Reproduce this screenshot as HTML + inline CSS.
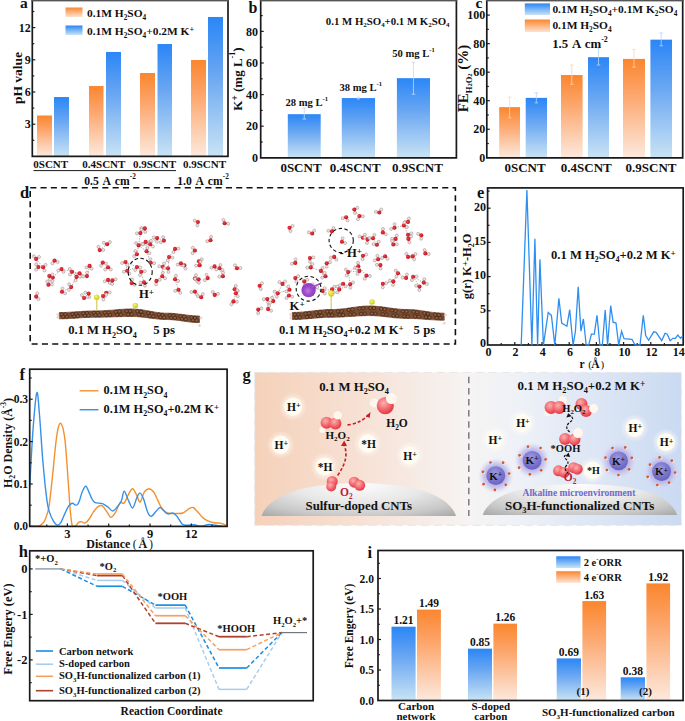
<!DOCTYPE html>
<html><head><meta charset="utf-8"><style>
html,body{margin:0;padding:0;background:#fff;width:685px;height:721px;overflow:hidden}
svg{display:block;font-family:'Liberation Serif',serif}
</style></head><body>
<svg width="685" height="721" viewBox="0 0 685 721">

<defs>
<linearGradient id="gO" x1="0" y1="0" x2="0" y2="1">
 <stop offset="0" stop-color="#fb862e"/><stop offset="0.35" stop-color="#fca56a"/><stop offset="1" stop-color="#fde9de"/>
</linearGradient>
<linearGradient id="gB" x1="0" y1="0" x2="0" y2="1">
 <stop offset="0" stop-color="#2a86f7"/><stop offset="0.4" stop-color="#68a6f2"/><stop offset="1" stop-color="#c9e3f4"/>
</linearGradient>
<linearGradient id="gOs" x1="0" y1="0" x2="0" y2="1">
 <stop offset="0" stop-color="#fb862e"/><stop offset="1" stop-color="#fde3d2"/>
</linearGradient>
<linearGradient id="gBs" x1="0" y1="0" x2="0" y2="1">
 <stop offset="0" stop-color="#2a86f7"/><stop offset="1" stop-color="#c9e3f4"/>
</linearGradient>
<linearGradient id="gL" x1="0" y1="0" x2="1" y2="0">
 <stop offset="0" stop-color="#f7d3bd"/><stop offset="1" stop-color="#fbf1ec"/>
</linearGradient>
<linearGradient id="gR" x1="0" y1="0" x2="1" y2="0">
 <stop offset="0" stop-color="#eef1f8"/><stop offset="1" stop-color="#c6d8f1"/>
</linearGradient>
<radialGradient id="gDome" cx="0.5" cy="0.05" r="0.75" gradientTransform="translate(0.5 0.05) scale(1 1.6) translate(-0.5 -0.05)">
 <stop offset="0" stop-color="#fcfcfc"/><stop offset="0.45" stop-color="#e8e8e8"/><stop offset="0.8" stop-color="#c8c8c8"/><stop offset="1" stop-color="#ababab"/>
</radialGradient>
<radialGradient id="gK" cx="0.5" cy="0.5" r="0.5">
 <stop offset="0.45" stop-color="#aca7e3"/><stop offset="0.7" stop-color="#c3c0ec" stop-opacity="0.75"/><stop offset="1" stop-color="#d8d8f4" stop-opacity="0"/>
</radialGradient>
<radialGradient id="gKs" cx="0.45" cy="0.35" r="0.65">
 <stop offset="0" stop-color="#9e9ade"/><stop offset="0.6" stop-color="#7c76cc"/><stop offset="1" stop-color="#6a63c0"/>
</radialGradient>
<linearGradient id="gBG" x1="0" y1="0" x2="1" y2="0">
 <stop offset="0" stop-color="#f5d1b9"/><stop offset="0.25" stop-color="#f7e1d5"/><stop offset="0.5" stop-color="#f6f4f3"/><stop offset="0.62" stop-color="#eef1f7"/><stop offset="1" stop-color="#cadaf2"/>
</linearGradient>
<radialGradient id="gH" cx="0.5" cy="0.5" r="0.5">
 <stop offset="0" stop-color="#ffffff"/><stop offset="0.6" stop-color="#fffaf2"/><stop offset="1" stop-color="#ffffff" stop-opacity="0"/>
</radialGradient>
<radialGradient id="gO2" cx="0.4" cy="0.4" r="0.6">
 <stop offset="0" stop-color="#ec4046"/><stop offset="1" stop-color="#c0101c"/>
</radialGradient>
<radialGradient id="gS" cx="0.4" cy="0.35" r="0.65">
 <stop offset="0" stop-color="#f4f480"/><stop offset="1" stop-color="#d0c810"/>
</radialGradient>
<radialGradient id="gKd" cx="0.45" cy="0.55" r="0.6">
 <stop offset="0" stop-color="#c07ad8"/><stop offset="0.5" stop-color="#9a48cc"/><stop offset="1" stop-color="#8638c0"/>
</radialGradient>
<radialGradient id="gRed" cx="0.4" cy="0.35" r="0.6">
 <stop offset="0" stop-color="#ffb0b0"/><stop offset="1" stop-color="#e8404a"/>
</radialGradient>
</defs>

<rect x="37" y="115.506" width="15" height="40.894000000000005" fill="url(#gO)" />
<rect x="54" y="97.04466666666667" width="15" height="59.355333333333334" fill="url(#gB)" />
<rect x="89" y="85.98933333333333" width="14.5" height="70.41066666666667" fill="url(#gO)" />
<rect x="106" y="51.96466666666666" width="15" height="104.43533333333335" fill="url(#gB)" />
<rect x="140" y="73.00200000000001" width="15" height="83.398" fill="url(#gO)" />
<rect x="157.5" y="44.02199999999999" width="14.5" height="112.37800000000001" fill="url(#gB)" />
<rect x="191" y="60.014666666666656" width="15" height="96.38533333333335" fill="url(#gO)" />
<rect x="208" y="16.97399999999999" width="15" height="139.42600000000002" fill="url(#gB)" />
<path d="M32.3,-0.04999999999999993 L32.3,156.4 L228,156.4 L228,-0.04999999999999993" fill="none" stroke="#1a1a1a" stroke-width="1.7"/>
<rect x="31.449999999999996" y="0" width="197.39999999999998" height="1.4" fill="#555"/>
<line x1="32.3" y1="124.2" x2="35.3" y2="124.2" stroke="#1a1a1a" stroke-width="1.2" />
<text x="30.8" y="128.4" font-size="12" text-anchor="end" fill="#111" font-weight="bold"  xml:space="preserve"><tspan>3</tspan></text>
<line x1="32.3" y1="92.0" x2="35.3" y2="92.0" stroke="#1a1a1a" stroke-width="1.2" />
<text x="30.8" y="96.2" font-size="12" text-anchor="end" fill="#111" font-weight="bold"  xml:space="preserve"><tspan>6</tspan></text>
<line x1="32.3" y1="59.8" x2="35.3" y2="59.8" stroke="#1a1a1a" stroke-width="1.2" />
<text x="30.8" y="64.0" font-size="12" text-anchor="end" fill="#111" font-weight="bold"  xml:space="preserve"><tspan>9</tspan></text>
<line x1="32.3" y1="27.599999999999994" x2="35.3" y2="27.599999999999994" stroke="#1a1a1a" stroke-width="1.2" />
<text x="30.8" y="31.799999999999994" font-size="12" text-anchor="end" fill="#111" font-weight="bold"  xml:space="preserve"><tspan>12</tspan></text>
<line x1="32.3" y1="140.3" x2="34.3" y2="140.3" stroke="#1a1a1a" stroke-width="1.2" />
<line x1="32.3" y1="108.1" x2="34.3" y2="108.1" stroke="#1a1a1a" stroke-width="1.2" />
<line x1="32.3" y1="75.9" x2="34.3" y2="75.9" stroke="#1a1a1a" stroke-width="1.2" />
<line x1="32.3" y1="43.69999999999999" x2="34.3" y2="43.69999999999999" stroke="#1a1a1a" stroke-width="1.2" />
<line x1="32.3" y1="11.5" x2="34.3" y2="11.5" stroke="#1a1a1a" stroke-width="1.2" />
<text x="20.1" y="7.9" font-size="15.5" text-anchor="start" fill="#111" font-weight="bold"  xml:space="preserve"><tspan>a</tspan></text>
<rect x="65.5" y="7.5" width="17" height="9.5" fill="url(#gOs)" />
<rect x="65.5" y="25.5" width="17" height="9.5" fill="url(#gBs)" />
<text x="87" y="16.5" font-size="11.4" text-anchor="start" fill="#111" font-weight="bold"  xml:space="preserve"><tspan>0.1M H</tspan><tspan dy="3.08" font-size="7.30">2</tspan><tspan dy="-3.08">SO</tspan><tspan dy="3.08" font-size="7.30">4</tspan></text>
<text x="87" y="34.5" font-size="11.4" text-anchor="start" fill="#111" font-weight="bold"  xml:space="preserve"><tspan>0.1M H</tspan><tspan dy="3.08" font-size="7.30">2</tspan><tspan dy="-3.08">SO</tspan><tspan dy="3.08" font-size="7.30">4</tspan><tspan dy="-3.08">+0.2M K</tspan><tspan dy="-2.74" font-size="8.21">+</tspan></text>
<text transform="translate(22.3,78) rotate(-90)" font-size="13.5" text-anchor="middle" fill="#111" font-weight="bold" xml:space="preserve"><tspan>pH value</tspan></text>
<text x="33.3" y="167.8" font-size="11" text-anchor="start" fill="#111" font-weight="bold"  xml:space="preserve"><tspan>0SCNT</tspan></text>
<text x="82.3" y="167.8" font-size="11" text-anchor="start" fill="#111" font-weight="bold"  xml:space="preserve"><tspan>0.4SCNT</tspan></text>
<text x="133" y="167.8" font-size="11" text-anchor="start" fill="#111" font-weight="bold"  xml:space="preserve"><tspan>0.9SCNT</tspan></text>
<text x="183" y="167.8" font-size="11" text-anchor="start" fill="#111" font-weight="bold"  xml:space="preserve"><tspan>0.9SCNT</tspan></text>
<line x1="33.5" y1="170.6" x2="176" y2="170.6" stroke="#1a1a1a" stroke-width="1.0" />
<text x="84.2" y="184.5" font-size="11.7" text-anchor="start" fill="#111" font-weight="bold" word-spacing="1.5" xml:space="preserve"><tspan>0.5 A cm</tspan><tspan dy="-5.85" font-size="7.25">-2</tspan></text>
<text x="177.2" y="184.5" font-size="11.7" text-anchor="start" fill="#111" font-weight="bold" word-spacing="1.5" xml:space="preserve"><tspan>1.0 A cm</tspan><tspan dy="-5.85" font-size="7.25">-2</tspan></text>
<rect x="287.8" y="114.19200000000001" width="32.89999999999998" height="43.608000000000004" fill="url(#gB)" />
<line x1="304.25" y1="119.09" x2="304.25" y2="108.03" stroke="#c2daf6" stroke-width="0.8" />
<line x1="302.45" y1="119.09" x2="306.05" y2="119.09" stroke="#c2daf6" stroke-width="0.8" />
<line x1="302.45" y1="108.03" x2="306.05" y2="108.03" stroke="#c2daf6" stroke-width="0.8" />
<rect x="341.8" y="98.07600000000002" width="33.19999999999999" height="59.72399999999999" fill="url(#gB)" />
<line x1="358.4" y1="98.86600000000001" x2="358.4" y2="97.28600000000002" stroke="#c2daf6" stroke-width="0.8" />
<line x1="356.59999999999997" y1="98.86600000000001" x2="360.2" y2="98.86600000000001" stroke="#c2daf6" stroke-width="0.8" />
<line x1="356.59999999999997" y1="97.28600000000002" x2="360.2" y2="97.28600000000002" stroke="#c2daf6" stroke-width="0.8" />
<rect x="396.9" y="78.168" width="33.10000000000002" height="79.632" fill="url(#gB)" />
<line x1="413.45" y1="94.284" x2="413.45" y2="62.05200000000001" stroke="#c2daf6" stroke-width="0.8" />
<line x1="411.65" y1="94.284" x2="415.25" y2="94.284" stroke="#c2daf6" stroke-width="0.8" />
<line x1="411.65" y1="62.05200000000001" x2="415.25" y2="62.05200000000001" stroke="#c2daf6" stroke-width="0.8" />
<path d="M260.7,-0.04999999999999993 L260.7,157.8 L456.4,157.8 L456.4,-0.04999999999999993" fill="none" stroke="#1a1a1a" stroke-width="1.7"/>
<rect x="259.84999999999997" y="0" width="197.39999999999998" height="1.4" fill="#555"/>
<text x="258" y="162.0" font-size="12" text-anchor="end" fill="#111" font-weight="bold"  xml:space="preserve"><tspan>0</tspan></text>
<line x1="260.7" y1="126.20000000000002" x2="263.7" y2="126.20000000000002" stroke="#1a1a1a" stroke-width="1.2" />
<text x="258" y="130.4" font-size="12" text-anchor="end" fill="#111" font-weight="bold"  xml:space="preserve"><tspan>20</tspan></text>
<line x1="260.7" y1="94.60000000000001" x2="263.7" y2="94.60000000000001" stroke="#1a1a1a" stroke-width="1.2" />
<text x="258" y="98.80000000000001" font-size="12" text-anchor="end" fill="#111" font-weight="bold"  xml:space="preserve"><tspan>40</tspan></text>
<line x1="260.7" y1="63.0" x2="263.7" y2="63.0" stroke="#1a1a1a" stroke-width="1.2" />
<text x="258" y="67.2" font-size="12" text-anchor="end" fill="#111" font-weight="bold"  xml:space="preserve"><tspan>60</tspan></text>
<line x1="260.7" y1="31.400000000000006" x2="263.7" y2="31.400000000000006" stroke="#1a1a1a" stroke-width="1.2" />
<text x="258" y="35.60000000000001" font-size="12" text-anchor="end" fill="#111" font-weight="bold"  xml:space="preserve"><tspan>80</tspan></text>
<line x1="260.7" y1="142.0" x2="262.7" y2="142.0" stroke="#1a1a1a" stroke-width="1.2" />
<line x1="260.7" y1="110.4" x2="262.7" y2="110.4" stroke="#1a1a1a" stroke-width="1.2" />
<line x1="260.7" y1="78.80000000000001" x2="262.7" y2="78.80000000000001" stroke="#1a1a1a" stroke-width="1.2" />
<line x1="260.7" y1="47.2" x2="262.7" y2="47.2" stroke="#1a1a1a" stroke-width="1.2" />
<line x1="260.7" y1="15.599999999999994" x2="262.7" y2="15.599999999999994" stroke="#1a1a1a" stroke-width="1.2" />
<text x="248.6" y="12.8" font-size="16" text-anchor="start" fill="#111" font-weight="bold"  xml:space="preserve"><tspan>b</tspan></text>
<text x="325.8" y="24.5" font-size="10.8" text-anchor="start" fill="#111" font-weight="bold"  xml:space="preserve"><tspan>0.1 M H</tspan><tspan dy="2.92" font-size="6.91">2</tspan><tspan dy="-2.92">SO</tspan><tspan dy="2.92" font-size="6.91">4</tspan><tspan dy="-2.92">+0.1 M K</tspan><tspan dy="2.92" font-size="6.91">2</tspan><tspan dy="-2.92">SO</tspan><tspan dy="2.92" font-size="6.91">4</tspan></text>
<text x="306.8" y="105.8" font-size="10.6" text-anchor="middle" fill="#111" font-weight="bold"  xml:space="preserve"><tspan>28 mg L</tspan><tspan dy="-5.30" font-size="6.57">-1</tspan></text>
<text x="360.8" y="91.3" font-size="10.6" text-anchor="middle" fill="#111" font-weight="bold"  xml:space="preserve"><tspan>38 mg L</tspan><tspan dy="-5.30" font-size="6.57">-1</tspan></text>
<text x="413.5" y="57.4" font-size="10.6" text-anchor="middle" fill="#111" font-weight="bold"  xml:space="preserve"><tspan>50 mg L</tspan><tspan dy="-5.30" font-size="6.57">-1</tspan></text>
<text transform="translate(241.5,79) rotate(-90)" font-size="13" text-anchor="middle" fill="#111" font-weight="bold" xml:space="preserve"><tspan>K</tspan><tspan dy="-3.12" font-size="9.36">+</tspan><tspan dy="3.12"> (mg L</tspan><tspan dy="-6.50" font-size="8.06">-1</tspan><tspan dy="6.50">)</tspan></text>
<text x="280.4" y="171.5" font-size="13" text-anchor="start" fill="#111" font-weight="bold"  xml:space="preserve"><tspan>0SCNT</tspan></text>
<text x="329.7" y="171.5" font-size="13" text-anchor="start" fill="#111" font-weight="bold"  xml:space="preserve"><tspan>0.4SCNT</tspan></text>
<text x="392" y="171.5" font-size="13" text-anchor="start" fill="#111" font-weight="bold"  xml:space="preserve"><tspan>0.9SCNT</tspan></text>
<rect x="499.2" y="107.14150000000001" width="20.80000000000001" height="50.658500000000004" fill="url(#gO)" />
<line x1="509.6" y1="117.84400000000001" x2="509.6" y2="97.1525" stroke="#fbd3b0" stroke-width="0.8" />
<line x1="507.8" y1="117.84400000000001" x2="511.40000000000003" y2="117.84400000000001" stroke="#fbd3b0" stroke-width="0.8" />
<line x1="507.8" y1="97.1525" x2="511.40000000000003" y2="97.1525" stroke="#fbd3b0" stroke-width="0.8" />
<rect x="525.7" y="97.86600000000001" width="21.299999999999955" height="59.934" fill="url(#gB)" />
<line x1="536.35" y1="102.8605" x2="536.35" y2="92.87150000000001" stroke="#b9d4f4" stroke-width="0.8" />
<line x1="534.5500000000001" y1="102.8605" x2="538.15" y2="102.8605" stroke="#b9d4f4" stroke-width="0.8" />
<line x1="534.5500000000001" y1="92.87150000000001" x2="538.15" y2="92.87150000000001" stroke="#b9d4f4" stroke-width="0.8" />
<rect x="561" y="75.034" width="21.600000000000023" height="82.766" fill="url(#gO)" />
<line x1="571.8" y1="84.30950000000001" x2="571.8" y2="65.045" stroke="#fbd3b0" stroke-width="0.8" />
<line x1="570.0" y1="84.30950000000001" x2="573.5999999999999" y2="84.30950000000001" stroke="#fbd3b0" stroke-width="0.8" />
<line x1="570.0" y1="65.045" x2="573.5999999999999" y2="65.045" stroke="#fbd3b0" stroke-width="0.8" />
<rect x="588" y="57.196500000000015" width="21" height="100.6035" fill="url(#gB)" />
<line x1="598.5" y1="65.045" x2="598.5" y2="47.92100000000001" stroke="#b9d4f4" stroke-width="0.8" />
<line x1="596.7" y1="65.045" x2="600.3" y2="65.045" stroke="#b9d4f4" stroke-width="0.8" />
<line x1="596.7" y1="47.92100000000001" x2="600.3" y2="47.92100000000001" stroke="#b9d4f4" stroke-width="0.8" />
<rect x="623" y="58.90890000000002" width="22" height="98.8911" fill="url(#gO)" />
<line x1="634.0" y1="67.1855" x2="634.0" y2="49.34800000000001" stroke="#fbd3b0" stroke-width="0.8" />
<line x1="632.2" y1="67.1855" x2="635.8" y2="67.1855" stroke="#fbd3b0" stroke-width="0.8" />
<line x1="632.2" y1="49.34800000000001" x2="635.8" y2="49.34800000000001" stroke="#fbd3b0" stroke-width="0.8" />
<rect x="650.4" y="39.644400000000005" width="21.600000000000023" height="118.1556" fill="url(#gB)" />
<line x1="661.2" y1="45.7805" x2="661.2" y2="32.937500000000014" stroke="#b9d4f4" stroke-width="0.8" />
<line x1="659.4000000000001" y1="45.7805" x2="663.0" y2="45.7805" stroke="#b9d4f4" stroke-width="0.8" />
<line x1="659.4000000000001" y1="32.937500000000014" x2="663.0" y2="32.937500000000014" stroke="#b9d4f4" stroke-width="0.8" />
<path d="M486.8,-0.04999999999999993 L486.8,157.8 L682.7,157.8 L682.7,-0.04999999999999993" fill="none" stroke="#1a1a1a" stroke-width="1.7"/>
<rect x="485.95" y="0" width="197.60000000000002" height="1.4" fill="#555"/>
<text x="485.2" y="162.0" font-size="12" text-anchor="end" fill="#111" font-weight="bold"  xml:space="preserve"><tspan>0</tspan></text>
<line x1="486.8" y1="129.26000000000002" x2="489.8" y2="129.26000000000002" stroke="#1a1a1a" stroke-width="1.2" />
<text x="485.2" y="133.46" font-size="12" text-anchor="end" fill="#111" font-weight="bold"  xml:space="preserve"><tspan>20</tspan></text>
<line x1="486.8" y1="100.72000000000001" x2="489.8" y2="100.72000000000001" stroke="#1a1a1a" stroke-width="1.2" />
<text x="485.2" y="104.92000000000002" font-size="12" text-anchor="end" fill="#111" font-weight="bold"  xml:space="preserve"><tspan>40</tspan></text>
<line x1="486.8" y1="72.18" x2="489.8" y2="72.18" stroke="#1a1a1a" stroke-width="1.2" />
<text x="485.2" y="76.38000000000001" font-size="12" text-anchor="end" fill="#111" font-weight="bold"  xml:space="preserve"><tspan>60</tspan></text>
<line x1="486.8" y1="43.640000000000015" x2="489.8" y2="43.640000000000015" stroke="#1a1a1a" stroke-width="1.2" />
<text x="485.2" y="47.84000000000002" font-size="12" text-anchor="end" fill="#111" font-weight="bold"  xml:space="preserve"><tspan>80</tspan></text>
<line x1="486.8" y1="15.099999999999994" x2="489.8" y2="15.099999999999994" stroke="#1a1a1a" stroke-width="1.2" />
<text x="485.2" y="19.299999999999994" font-size="12" text-anchor="end" fill="#111" font-weight="bold"  xml:space="preserve"><tspan>100</tspan></text>
<line x1="486.8" y1="143.53" x2="488.8" y2="143.53" stroke="#1a1a1a" stroke-width="1.2" />
<line x1="486.8" y1="114.99000000000001" x2="488.8" y2="114.99000000000001" stroke="#1a1a1a" stroke-width="1.2" />
<line x1="486.8" y1="86.45" x2="488.8" y2="86.45" stroke="#1a1a1a" stroke-width="1.2" />
<line x1="486.8" y1="57.91000000000001" x2="488.8" y2="57.91000000000001" stroke="#1a1a1a" stroke-width="1.2" />
<line x1="486.8" y1="29.370000000000005" x2="488.8" y2="29.370000000000005" stroke="#1a1a1a" stroke-width="1.2" />
<text x="475.6" y="7.9" font-size="15.5" text-anchor="start" fill="#111" font-weight="bold"  xml:space="preserve"><tspan>c</tspan></text>
<rect x="524.8" y="3.4" width="25.2" height="11.6" fill="url(#gBs)" />
<rect x="524.8" y="19.5" width="25.2" height="12.5" fill="url(#gOs)" />
<text x="552.4" y="12.8" font-size="11.4" text-anchor="start" fill="#111" font-weight="bold"  xml:space="preserve"><tspan>0.1M H</tspan><tspan dy="3.08" font-size="7.30">2</tspan><tspan dy="-3.08">SO</tspan><tspan dy="3.08" font-size="7.30">4</tspan><tspan dy="-3.08">+0.1M K</tspan><tspan dy="3.08" font-size="7.30">2</tspan><tspan dy="-3.08">SO</tspan><tspan dy="3.08" font-size="7.30">4</tspan></text>
<text x="552.4" y="28.6" font-size="11.4" text-anchor="start" fill="#111" font-weight="bold"  xml:space="preserve"><tspan>0.1M H</tspan><tspan dy="3.08" font-size="7.30">2</tspan><tspan dy="-3.08">SO</tspan><tspan dy="3.08" font-size="7.30">4</tspan></text>
<text x="552.2" y="48.3" font-size="12.8" text-anchor="start" fill="#111" font-weight="bold" word-spacing="1.2" xml:space="preserve"><tspan>1.5 A cm</tspan><tspan dy="-6.40" font-size="7.94">-2</tspan></text>
<text transform="translate(468.2,78.5) rotate(-90)" font-size="15" text-anchor="middle" font-weight="bold" fill="#111" xml:space="preserve">FE<tspan dy="3.6" font-size="8.5">H<tspan font-size="6.5">2</tspan>O<tspan font-size="6.5">2</tspan></tspan><tspan dy="-3.6"> (%)</tspan></text>
<text x="504.5" y="171.5" font-size="13" text-anchor="start" fill="#111" font-weight="bold"  xml:space="preserve"><tspan>0SCNT</tspan></text>
<text x="560.8" y="171.5" font-size="13" text-anchor="start" fill="#111" font-weight="bold"  xml:space="preserve"><tspan>0.4SCNT</tspan></text>
<text x="625.6" y="171.5" font-size="13" text-anchor="start" fill="#111" font-weight="bold"  xml:space="preserve"><tspan>0.9SCNT</tspan></text>
<rect x="30.2" y="187.8" width="425.2" height="156.2" fill="none" stroke="#111" stroke-width="1.6" stroke-dasharray="6.1,4.2"/>
<text x="19.9" y="197.8" font-size="16.5" text-anchor="start" fill="#111" font-weight="bold"  xml:space="preserve"><tspan>d</tspan></text>
<path d="M59.3,312.5 L62.8,312.5 L66.3,312.4 L69.8,312.2 L73.3,312.0 L76.8,311.8 L80.3,311.5 L83.8,311.3 L87.3,311.1 L90.8,311.0 L94.3,310.9 L97.9,310.9 L101.4,310.8 L104.9,310.7 L108.4,310.4 L111.9,310.2 L115.4,309.9 L118.9,309.6 L122.4,309.3 L125.9,309.1 L129.4,309.0 L132.9,309.0 L136.4,309.2 L139.9,309.5 L143.4,310.0 L146.9,310.7 L150.4,311.3 L153.9,311.9 L157.4,312.5 L160.9,312.9 L164.4,313.2 L168.0,313.2 L171.5,313.3 L175.0,313.6 L178.5,314.0 L182.0,314.4 L185.5,314.9 L189.0,315.3 L192.5,315.7 L196.0,315.9 L199.5,316.0 L199.5,322.6 L196.0,322.5 L192.5,322.3 L189.0,321.9 L185.5,321.4 L182.0,320.9 L178.5,320.4 L175.0,320.0 L171.5,319.7 L168.0,319.5 L164.4,319.5 L160.9,319.3 L157.4,319.0 L153.9,318.6 L150.4,318.2 L146.9,317.7 L143.4,317.2 L139.9,316.9 L136.4,316.6 L132.9,316.5 L129.4,316.5 L125.9,316.5 L122.4,316.6 L118.9,316.7 L115.4,316.8 L111.9,316.9 L108.4,317.0 L104.9,317.1 L101.4,317.2 L97.9,317.2 L94.3,317.2 L90.8,317.3 L87.3,317.4 L83.8,317.6 L80.3,317.8 L76.8,318.1 L73.3,318.3 L69.8,318.5 L66.3,318.7 L62.8,318.8 L59.3,318.8 Z" fill="#7a4d33" stroke="#7a4d33" stroke-width="0.8" stroke-linejoin="round"/>
<g fill="#8d6046" stroke="#4a2a16" stroke-width="0.9"><circle cx="61.8" cy="314.5" r="1.7"/><circle cx="63.3" cy="316.8" r="1.7"/><circle cx="65.4" cy="314.4" r="1.7"/><circle cx="66.9" cy="316.7" r="1.7"/><circle cx="72.6" cy="314.1" r="1.7"/><circle cx="74.1" cy="316.4" r="1.7"/><circle cx="76.2" cy="313.8" r="1.7"/><circle cx="77.7" cy="316.1" r="1.7"/><circle cx="83.4" cy="313.3" r="1.7"/><circle cx="84.9" cy="315.6" r="1.7"/><circle cx="87.0" cy="313.2" r="1.7"/><circle cx="88.5" cy="315.5" r="1.7"/><circle cx="94.2" cy="312.9" r="1.7"/><circle cx="95.7" cy="315.2" r="1.7"/><circle cx="97.8" cy="312.9" r="1.7"/><circle cx="99.3" cy="315.2" r="1.7"/><circle cx="105.0" cy="312.6" r="1.7"/><circle cx="106.5" cy="315.1" r="1.7"/><circle cx="108.6" cy="312.4" r="1.7"/><circle cx="110.1" cy="315.0" r="1.7"/><circle cx="115.8" cy="311.8" r="1.7"/><circle cx="117.3" cy="314.8" r="1.7"/><circle cx="119.4" cy="311.5" r="1.7"/><circle cx="120.9" cy="314.7" r="1.7"/><circle cx="126.6" cy="311.1" r="1.7"/><circle cx="128.1" cy="314.5" r="1.7"/><circle cx="130.2" cy="311.0" r="1.7"/><circle cx="131.7" cy="314.5" r="1.7"/><circle cx="137.4" cy="311.3" r="1.7"/><circle cx="138.9" cy="314.7" r="1.7"/><circle cx="141.0" cy="311.7" r="1.7"/><circle cx="142.5" cy="315.0" r="1.7"/><circle cx="148.2" cy="312.9" r="1.7"/><circle cx="149.7" cy="315.9" r="1.7"/><circle cx="151.8" cy="313.6" r="1.7"/><circle cx="153.3" cy="316.3" r="1.7"/><circle cx="159.0" cy="314.7" r="1.7"/><circle cx="160.5" cy="317.1" r="1.7"/><circle cx="162.6" cy="315.1" r="1.7"/><circle cx="164.1" cy="317.4" r="1.7"/><circle cx="169.8" cy="315.3" r="1.7"/><circle cx="171.3" cy="317.6" r="1.7"/><circle cx="173.4" cy="315.5" r="1.7"/><circle cx="174.9" cy="317.8" r="1.7"/><circle cx="180.6" cy="316.3" r="1.7"/><circle cx="182.1" cy="318.7" r="1.7"/><circle cx="184.2" cy="316.7" r="1.7"/><circle cx="185.7" cy="319.2" r="1.7"/><circle cx="191.4" cy="317.6" r="1.7"/><circle cx="192.9" cy="320.2" r="1.7"/><circle cx="195.0" cy="317.9" r="1.7"/><circle cx="196.5" cy="320.5" r="1.7"/></g>
<circle cx="57.8" cy="314.5" r="1.4" fill="#ead6d6"/><circle cx="57.8" cy="317.3" r="1.4" fill="#ead6d6"/>
<circle cx="201.0" cy="318.0" r="1.4" fill="#ead6d6"/><circle cx="199.5" cy="325.6" r="1.4" fill="#ead6d6"/>
<path d="M292.3,312.5 L296.1,312.4 L299.9,312.2 L303.7,311.9 L307.5,311.5 L311.3,311.1 L315.1,310.7 L318.9,310.2 L322.7,309.9 L326.5,309.6 L330.3,309.5 L334.1,309.5 L337.9,309.3 L341.7,309.0 L345.5,308.5 L349.3,308.0 L353.1,307.4 L356.9,306.9 L360.7,306.5 L364.5,306.1 L368.2,306.0 L372.0,306.0 L375.8,306.3 L379.6,306.6 L383.4,307.1 L387.2,307.6 L391.0,308.2 L394.8,308.7 L398.6,309.1 L402.4,309.4 L406.2,309.5 L410.0,309.6 L413.8,309.8 L417.6,310.2 L421.4,310.7 L425.2,311.3 L429.0,311.9 L432.8,312.4 L436.6,312.8 L440.4,313.1 L444.2,313.2 L444.2,320.2 L440.4,320.2 L436.6,320.0 L432.8,319.8 L429.0,319.6 L425.2,319.3 L421.4,319.0 L417.6,318.7 L413.8,318.6 L410.0,318.4 L406.2,318.4 L402.4,318.3 L398.6,318.1 L394.8,317.8 L391.0,317.3 L387.2,316.9 L383.4,316.5 L379.6,316.1 L375.8,315.8 L372.0,315.6 L368.2,315.6 L364.5,315.7 L360.7,315.8 L356.9,316.0 L353.1,316.2 L349.3,316.5 L345.5,316.7 L341.7,317.0 L337.9,317.1 L334.1,317.2 L330.3,317.2 L326.5,317.3 L322.7,317.5 L318.9,317.8 L315.1,318.1 L311.3,318.4 L307.5,318.8 L303.7,319.1 L299.9,319.3 L296.1,319.4 L292.3,319.5 Z" fill="#7a4d33" stroke="#7a4d33" stroke-width="0.8" stroke-linejoin="round"/>
<g fill="#8d6046" stroke="#4a2a16" stroke-width="0.9"><circle cx="294.8" cy="314.5" r="1.7"/><circle cx="296.3" cy="317.5" r="1.7"/><circle cx="298.4" cy="314.3" r="1.7"/><circle cx="299.9" cy="317.4" r="1.7"/><circle cx="305.6" cy="313.7" r="1.7"/><circle cx="307.1" cy="316.9" r="1.7"/><circle cx="309.2" cy="313.3" r="1.7"/><circle cx="310.7" cy="316.6" r="1.7"/><circle cx="316.4" cy="312.5" r="1.7"/><circle cx="317.9" cy="316.0" r="1.7"/><circle cx="320.0" cy="312.1" r="1.7"/><circle cx="321.5" cy="315.7" r="1.7"/><circle cx="327.2" cy="311.6" r="1.7"/><circle cx="328.7" cy="315.3" r="1.7"/><circle cx="330.8" cy="311.5" r="1.7"/><circle cx="332.3" cy="315.2" r="1.7"/><circle cx="338.0" cy="311.3" r="1.7"/><circle cx="339.5" cy="315.1" r="1.7"/><circle cx="341.6" cy="311.0" r="1.7"/><circle cx="343.1" cy="315.0" r="1.7"/><circle cx="348.8" cy="310.0" r="1.7"/><circle cx="350.3" cy="314.5" r="1.7"/><circle cx="352.4" cy="309.5" r="1.7"/><circle cx="353.9" cy="314.3" r="1.7"/><circle cx="359.6" cy="308.6" r="1.7"/><circle cx="361.1" cy="313.9" r="1.7"/><circle cx="363.2" cy="308.2" r="1.7"/><circle cx="364.7" cy="313.7" r="1.7"/><circle cx="370.4" cy="308.0" r="1.7"/><circle cx="371.9" cy="313.6" r="1.7"/><circle cx="374.0" cy="308.1" r="1.7"/><circle cx="375.5" cy="313.7" r="1.7"/><circle cx="381.2" cy="308.8" r="1.7"/><circle cx="382.7" cy="314.2" r="1.7"/><circle cx="384.8" cy="309.3" r="1.7"/><circle cx="386.3" cy="314.6" r="1.7"/><circle cx="392.0" cy="310.3" r="1.7"/><circle cx="393.5" cy="315.5" r="1.7"/><circle cx="395.6" cy="310.8" r="1.7"/><circle cx="397.1" cy="315.8" r="1.7"/><circle cx="402.8" cy="311.4" r="1.7"/><circle cx="404.3" cy="316.3" r="1.7"/><circle cx="406.4" cy="311.5" r="1.7"/><circle cx="407.9" cy="316.4" r="1.7"/><circle cx="413.6" cy="311.8" r="1.7"/><circle cx="415.1" cy="316.5" r="1.7"/><circle cx="417.2" cy="312.2" r="1.7"/><circle cx="418.7" cy="316.7" r="1.7"/><circle cx="424.4" cy="313.2" r="1.7"/><circle cx="425.9" cy="317.2" r="1.7"/><circle cx="428.0" cy="313.7" r="1.7"/><circle cx="429.5" cy="317.5" r="1.7"/><circle cx="435.2" cy="314.7" r="1.7"/><circle cx="436.7" cy="318.0" r="1.7"/><circle cx="438.8" cy="315.0" r="1.7"/><circle cx="440.3" cy="318.1" r="1.7"/></g>
<circle cx="290.8" cy="314.5" r="1.4" fill="#ead6d6"/><circle cx="290.8" cy="318.0" r="1.4" fill="#ead6d6"/>
<circle cx="445.7" cy="315.2" r="1.4" fill="#ead6d6"/><circle cx="444.2" cy="323.2" r="1.4" fill="#ead6d6"/>
<line x1="96.7" y1="297.5" x2="96.7" y2="310.5" stroke="#d8d070" stroke-width="1.3" />
<line x1="331.2" y1="293.5" x2="331.2" y2="309" stroke="#d8d070" stroke-width="1.3" />
<path d="M144.8,228.4L140.4,233.1 M140.4,233.1L138.6,245.4 M157.1,238.1L163.9,240.6 M157.1,238.1L145.6,241.9 M157.1,238.1L150.2,244.3 M107.1,244.2L99.7,250.1 M138.6,245.4L145.6,241.9 M138.6,245.4L150.2,244.3 M138.6,245.4L146.5,251.2 M138.6,245.4L136.9,254.2 M145.6,241.9L146.5,251.2 M150.2,244.3L146.5,251.2 M146.5,251.2L150.6,262.7 M36.1,258.9L38.4,267.0 M36.1,258.9L43.1,267.3 M125.5,262.0L127.2,270.8 M125.5,262.0L136.9,267.0 M89.6,265.9L86.9,276.1 M61.5,269.1L72.0,271.7 M61.5,269.1L52.8,277.5 M72.0,271.7L79.6,273.4 M72.0,271.7L76.4,276.9 M76.4,276.9L86.9,276.1 M76.4,276.9L71.2,287.1 M52.8,277.5L48.4,284.8 M127.2,270.8L136.9,267.0 M136.9,267.0L141.2,271.7 M141.2,271.7L144.0,282.4 M48.4,284.8L49.3,276.0 M71.2,287.1L61.9,291.8 M88.7,293.6L84.0,298.0 M162.8,266.7L169.0,257.0 M162.8,266.7L162.2,276.2 M169.0,257.0L175.0,248.9 M169.0,257.0L168.0,268.3 M219.4,268.3L222.9,276.2 M162.2,276.2L156.4,280.9 M175.0,279.2L178.5,289.7 M194.9,291.6L201.2,297.2 M235.8,293.3L233.4,301.4 M267.3,299.1L277.8,293.3 M267.3,299.1L268.0,309.1 M277.8,293.3L282.5,283.9 M277.8,293.3L289.5,289.7 M282.5,283.9L289.5,289.7 M354.3,209.5L359.4,216.0 M403.8,225.4L394.5,227.7 M403.8,225.4L408.0,234.7 M362.9,237.7L373.0,238.2 M373.0,238.2L376.9,244.8 M395.6,238.9L393.3,244.5 M385.1,256.2L378.1,259.2 M334.2,256.9L326.7,263.2 M309.9,258.1L310.8,267.4 M310.8,267.4L320.9,270.9 M320.9,270.9L325.5,276.3 M358.3,266.2L348.2,272.1 M358.3,266.2L366.4,275.6 M359.4,270.9L348.2,272.1 M348.2,272.1L350.1,284.2 M398.0,273.3L406.1,277.9 M398.0,273.3L393.3,281.4 M413.1,276.8L423.7,282.6 M413.1,276.8L419.5,286.5 M382.8,283.8L393.3,281.4 M350.1,284.2L339.3,289.4 M304.2,281.4L313.7,287.7 M313.7,287.7L322.5,290.9 M322.5,290.9L332.0,289.4 M332.0,289.4L339.3,289.4" stroke="#8c8c8c" stroke-width="0.75" stroke-dasharray="1.3,1.3" fill="none"/>
<line x1="144.8" y1="228.4" x2="145.2" y2="231.9" stroke="#b89696" stroke-width="1.1"/><circle cx="145.2" cy="231.9" r="1.5" fill="#f1e2e2" stroke="#a48a8a" stroke-width="0.55"/><line x1="144.8" y1="228.4" x2="141.3" y2="228.0" stroke="#b89696" stroke-width="1.1"/><circle cx="141.3" cy="228.0" r="1.5" fill="#f1e2e2" stroke="#a48a8a" stroke-width="0.55"/><circle cx="144.8" cy="228.4" r="2.05" fill="url(#gO2)"/>
<line x1="140.4" y1="233.1" x2="136.9" y2="233.4" stroke="#b89696" stroke-width="1.1"/><circle cx="136.9" cy="233.4" r="1.5" fill="#f1e2e2" stroke="#a48a8a" stroke-width="0.55"/><line x1="140.4" y1="233.1" x2="141.3" y2="229.7" stroke="#b89696" stroke-width="1.1"/><circle cx="141.3" cy="229.7" r="1.5" fill="#f1e2e2" stroke="#a48a8a" stroke-width="0.55"/><circle cx="140.4" cy="233.1" r="2.05" fill="url(#gO2)"/>
<line x1="157.1" y1="238.1" x2="156.8" y2="241.6" stroke="#b89696" stroke-width="1.1"/><circle cx="156.8" cy="241.6" r="1.5" fill="#f1e2e2" stroke="#a48a8a" stroke-width="0.55"/><line x1="157.1" y1="238.1" x2="153.7" y2="237.4" stroke="#b89696" stroke-width="1.1"/><circle cx="153.7" cy="237.4" r="1.5" fill="#f1e2e2" stroke="#a48a8a" stroke-width="0.55"/><circle cx="157.1" cy="238.1" r="2.05" fill="url(#gO2)"/>
<line x1="163.9" y1="240.6" x2="160.8" y2="242.3" stroke="#b89696" stroke-width="1.1"/><circle cx="160.8" cy="242.3" r="1.5" fill="#f1e2e2" stroke="#a48a8a" stroke-width="0.55"/><line x1="163.9" y1="240.6" x2="163.1" y2="237.2" stroke="#b89696" stroke-width="1.1"/><circle cx="163.1" cy="237.2" r="1.5" fill="#f1e2e2" stroke="#a48a8a" stroke-width="0.55"/><circle cx="163.9" cy="240.6" r="2.05" fill="url(#gO2)"/>
<line x1="107.1" y1="244.2" x2="103.9" y2="242.8" stroke="#b89696" stroke-width="1.1"/><circle cx="103.9" cy="242.8" r="1.5" fill="#f1e2e2" stroke="#a48a8a" stroke-width="0.55"/><line x1="107.1" y1="244.2" x2="109.9" y2="242.1" stroke="#b89696" stroke-width="1.1"/><circle cx="109.9" cy="242.1" r="1.5" fill="#f1e2e2" stroke="#a48a8a" stroke-width="0.55"/><circle cx="107.1" cy="244.2" r="2.05" fill="url(#gO2)"/>
<line x1="99.7" y1="250.1" x2="98.4" y2="246.8" stroke="#b89696" stroke-width="1.1"/><circle cx="98.4" cy="246.8" r="1.5" fill="#f1e2e2" stroke="#a48a8a" stroke-width="0.55"/><line x1="99.7" y1="250.1" x2="103.2" y2="250.0" stroke="#b89696" stroke-width="1.1"/><circle cx="103.2" cy="250.0" r="1.5" fill="#f1e2e2" stroke="#a48a8a" stroke-width="0.55"/><circle cx="99.7" cy="250.1" r="2.05" fill="url(#gO2)"/>
<line x1="138.6" y1="245.4" x2="136.0" y2="243.0" stroke="#b89696" stroke-width="1.1"/><circle cx="136.0" cy="243.0" r="1.5" fill="#f1e2e2" stroke="#a48a8a" stroke-width="0.55"/><line x1="138.6" y1="245.4" x2="141.8" y2="243.9" stroke="#b89696" stroke-width="1.1"/><circle cx="141.8" cy="243.9" r="1.5" fill="#f1e2e2" stroke="#a48a8a" stroke-width="0.55"/><circle cx="138.6" cy="245.4" r="2.05" fill="url(#gO2)"/>
<line x1="145.6" y1="241.9" x2="148.9" y2="243.1" stroke="#b89696" stroke-width="1.1"/><circle cx="148.9" cy="243.1" r="1.5" fill="#f1e2e2" stroke="#a48a8a" stroke-width="0.55"/><line x1="145.6" y1="241.9" x2="143.0" y2="244.3" stroke="#b89696" stroke-width="1.1"/><circle cx="143.0" cy="244.3" r="1.5" fill="#f1e2e2" stroke="#a48a8a" stroke-width="0.55"/><circle cx="145.6" cy="241.9" r="2.05" fill="url(#gO2)"/>
<line x1="150.2" y1="244.3" x2="150.9" y2="240.9" stroke="#b89696" stroke-width="1.1"/><circle cx="150.9" cy="240.9" r="1.5" fill="#f1e2e2" stroke="#a48a8a" stroke-width="0.55"/><line x1="150.2" y1="244.3" x2="152.9" y2="246.5" stroke="#b89696" stroke-width="1.1"/><circle cx="152.9" cy="246.5" r="1.5" fill="#f1e2e2" stroke="#a48a8a" stroke-width="0.55"/><circle cx="150.2" cy="244.3" r="2.05" fill="url(#gO2)"/>
<line x1="146.5" y1="251.2" x2="147.5" y2="247.9" stroke="#b89696" stroke-width="1.1"/><circle cx="147.5" cy="247.9" r="1.5" fill="#f1e2e2" stroke="#a48a8a" stroke-width="0.55"/><line x1="146.5" y1="251.2" x2="149.4" y2="253.1" stroke="#b89696" stroke-width="1.1"/><circle cx="149.4" cy="253.1" r="1.5" fill="#f1e2e2" stroke="#a48a8a" stroke-width="0.55"/><circle cx="146.5" cy="251.2" r="2.05" fill="url(#gO2)"/>
<line x1="136.9" y1="254.2" x2="134.1" y2="256.3" stroke="#b89696" stroke-width="1.1"/><circle cx="134.1" cy="256.3" r="1.5" fill="#f1e2e2" stroke="#a48a8a" stroke-width="0.55"/><line x1="136.9" y1="254.2" x2="135.3" y2="251.1" stroke="#b89696" stroke-width="1.1"/><circle cx="135.3" cy="251.1" r="1.5" fill="#f1e2e2" stroke="#a48a8a" stroke-width="0.55"/><circle cx="136.9" cy="254.2" r="2.05" fill="url(#gO2)"/>
<line x1="36.1" y1="258.9" x2="33.8" y2="256.3" stroke="#b89696" stroke-width="1.1"/><circle cx="33.8" cy="256.3" r="1.5" fill="#f1e2e2" stroke="#a48a8a" stroke-width="0.55"/><line x1="36.1" y1="258.9" x2="39.0" y2="257.0" stroke="#b89696" stroke-width="1.1"/><circle cx="39.0" cy="257.0" r="1.5" fill="#f1e2e2" stroke="#a48a8a" stroke-width="0.55"/><circle cx="36.1" cy="258.9" r="2.05" fill="url(#gO2)"/>
<line x1="54.5" y1="260.6" x2="57.7" y2="262.0" stroke="#b89696" stroke-width="1.1"/><circle cx="57.7" cy="262.0" r="1.5" fill="#f1e2e2" stroke="#a48a8a" stroke-width="0.55"/><line x1="54.5" y1="260.6" x2="52.4" y2="263.4" stroke="#b89696" stroke-width="1.1"/><circle cx="52.4" cy="263.4" r="1.5" fill="#f1e2e2" stroke="#a48a8a" stroke-width="0.55"/><circle cx="54.5" cy="260.6" r="2.05" fill="url(#gO2)"/>
<line x1="125.5" y1="262.0" x2="127.3" y2="265.0" stroke="#b89696" stroke-width="1.1"/><circle cx="127.3" cy="265.0" r="1.5" fill="#f1e2e2" stroke="#a48a8a" stroke-width="0.55"/><line x1="125.5" y1="262.0" x2="122.1" y2="263.0" stroke="#b89696" stroke-width="1.1"/><circle cx="122.1" cy="263.0" r="1.5" fill="#f1e2e2" stroke="#a48a8a" stroke-width="0.55"/><circle cx="125.5" cy="262.0" r="2.05" fill="url(#gO2)"/>
<line x1="102.7" y1="262.6" x2="106.0" y2="263.7" stroke="#b89696" stroke-width="1.1"/><circle cx="106.0" cy="263.7" r="1.5" fill="#f1e2e2" stroke="#a48a8a" stroke-width="0.55"/><line x1="102.7" y1="262.6" x2="101.1" y2="265.7" stroke="#b89696" stroke-width="1.1"/><circle cx="101.1" cy="265.7" r="1.5" fill="#f1e2e2" stroke="#a48a8a" stroke-width="0.55"/><circle cx="102.7" cy="262.6" r="2.05" fill="url(#gO2)"/>
<line x1="89.6" y1="265.9" x2="91.6" y2="268.7" stroke="#b89696" stroke-width="1.1"/><circle cx="91.6" cy="268.7" r="1.5" fill="#f1e2e2" stroke="#a48a8a" stroke-width="0.55"/><line x1="89.6" y1="265.9" x2="86.4" y2="267.4" stroke="#b89696" stroke-width="1.1"/><circle cx="86.4" cy="267.4" r="1.5" fill="#f1e2e2" stroke="#a48a8a" stroke-width="0.55"/><circle cx="89.6" cy="265.9" r="2.05" fill="url(#gO2)"/>
<line x1="38.4" y1="267.0" x2="36.1" y2="269.6" stroke="#b89696" stroke-width="1.1"/><circle cx="36.1" cy="269.6" r="1.5" fill="#f1e2e2" stroke="#a48a8a" stroke-width="0.55"/><line x1="38.4" y1="267.0" x2="36.1" y2="264.4" stroke="#b89696" stroke-width="1.1"/><circle cx="36.1" cy="264.4" r="1.5" fill="#f1e2e2" stroke="#a48a8a" stroke-width="0.55"/><circle cx="38.4" cy="267.0" r="2.05" fill="url(#gO2)"/>
<line x1="43.1" y1="267.3" x2="45.6" y2="264.8" stroke="#b89696" stroke-width="1.1"/><circle cx="45.6" cy="264.8" r="1.5" fill="#f1e2e2" stroke="#a48a8a" stroke-width="0.55"/><line x1="43.1" y1="267.3" x2="44.5" y2="270.5" stroke="#b89696" stroke-width="1.1"/><circle cx="44.5" cy="270.5" r="1.5" fill="#f1e2e2" stroke="#a48a8a" stroke-width="0.55"/><circle cx="43.1" cy="267.3" r="2.05" fill="url(#gO2)"/>
<line x1="61.5" y1="269.1" x2="63.6" y2="271.9" stroke="#b89696" stroke-width="1.1"/><circle cx="63.6" cy="271.9" r="1.5" fill="#f1e2e2" stroke="#a48a8a" stroke-width="0.55"/><line x1="61.5" y1="269.1" x2="58.3" y2="270.5" stroke="#b89696" stroke-width="1.1"/><circle cx="58.3" cy="270.5" r="1.5" fill="#f1e2e2" stroke="#a48a8a" stroke-width="0.55"/><circle cx="61.5" cy="269.1" r="2.05" fill="url(#gO2)"/>
<line x1="72.0" y1="271.7" x2="70.0" y2="274.6" stroke="#b89696" stroke-width="1.1"/><circle cx="70.0" cy="274.6" r="1.5" fill="#f1e2e2" stroke="#a48a8a" stroke-width="0.55"/><line x1="72.0" y1="271.7" x2="69.8" y2="269.0" stroke="#b89696" stroke-width="1.1"/><circle cx="69.8" cy="269.0" r="1.5" fill="#f1e2e2" stroke="#a48a8a" stroke-width="0.55"/><circle cx="72.0" cy="271.7" r="2.05" fill="url(#gO2)"/>
<line x1="79.6" y1="273.4" x2="82.1" y2="275.8" stroke="#b89696" stroke-width="1.1"/><circle cx="82.1" cy="275.8" r="1.5" fill="#f1e2e2" stroke="#a48a8a" stroke-width="0.55"/><line x1="79.6" y1="273.4" x2="76.3" y2="274.5" stroke="#b89696" stroke-width="1.1"/><circle cx="76.3" cy="274.5" r="1.5" fill="#f1e2e2" stroke="#a48a8a" stroke-width="0.55"/><circle cx="79.6" cy="273.4" r="2.05" fill="url(#gO2)"/>
<line x1="76.4" y1="276.9" x2="79.9" y2="276.7" stroke="#b89696" stroke-width="1.1"/><circle cx="79.9" cy="276.7" r="1.5" fill="#f1e2e2" stroke="#a48a8a" stroke-width="0.55"/><line x1="76.4" y1="276.9" x2="75.5" y2="280.3" stroke="#b89696" stroke-width="1.1"/><circle cx="75.5" cy="280.3" r="1.5" fill="#f1e2e2" stroke="#a48a8a" stroke-width="0.55"/><circle cx="76.4" cy="276.9" r="2.05" fill="url(#gO2)"/>
<line x1="86.9" y1="276.1" x2="83.4" y2="276.5" stroke="#b89696" stroke-width="1.1"/><circle cx="83.4" cy="276.5" r="1.5" fill="#f1e2e2" stroke="#a48a8a" stroke-width="0.55"/><line x1="86.9" y1="276.1" x2="87.1" y2="272.6" stroke="#b89696" stroke-width="1.1"/><circle cx="87.1" cy="272.6" r="1.5" fill="#f1e2e2" stroke="#a48a8a" stroke-width="0.55"/><circle cx="86.9" cy="276.1" r="2.05" fill="url(#gO2)"/>
<line x1="108.0" y1="267.3" x2="110.8" y2="269.4" stroke="#b89696" stroke-width="1.1"/><circle cx="110.8" cy="269.4" r="1.5" fill="#f1e2e2" stroke="#a48a8a" stroke-width="0.55"/><line x1="108.0" y1="267.3" x2="105.2" y2="269.5" stroke="#b89696" stroke-width="1.1"/><circle cx="105.2" cy="269.5" r="1.5" fill="#f1e2e2" stroke="#a48a8a" stroke-width="0.55"/><circle cx="108.0" cy="267.3" r="2.05" fill="url(#gO2)"/>
<line x1="52.8" y1="277.5" x2="52.5" y2="281.0" stroke="#b89696" stroke-width="1.1"/><circle cx="52.5" cy="281.0" r="1.5" fill="#f1e2e2" stroke="#a48a8a" stroke-width="0.55"/><line x1="52.8" y1="277.5" x2="49.8" y2="275.7" stroke="#b89696" stroke-width="1.1"/><circle cx="49.8" cy="275.7" r="1.5" fill="#f1e2e2" stroke="#a48a8a" stroke-width="0.55"/><circle cx="52.8" cy="277.5" r="2.05" fill="url(#gO2)"/>
<line x1="108.0" y1="279.9" x2="109.8" y2="282.9" stroke="#b89696" stroke-width="1.1"/><circle cx="109.8" cy="282.9" r="1.5" fill="#f1e2e2" stroke="#a48a8a" stroke-width="0.55"/><line x1="108.0" y1="279.9" x2="104.8" y2="281.3" stroke="#b89696" stroke-width="1.1"/><circle cx="104.8" cy="281.3" r="1.5" fill="#f1e2e2" stroke="#a48a8a" stroke-width="0.55"/><circle cx="108.0" cy="279.9" r="2.05" fill="url(#gO2)"/>
<line x1="112.3" y1="280.4" x2="115.6" y2="279.3" stroke="#b89696" stroke-width="1.1"/><circle cx="115.6" cy="279.3" r="1.5" fill="#f1e2e2" stroke="#a48a8a" stroke-width="0.55"/><line x1="112.3" y1="280.4" x2="112.2" y2="283.9" stroke="#b89696" stroke-width="1.1"/><circle cx="112.2" cy="283.9" r="1.5" fill="#f1e2e2" stroke="#a48a8a" stroke-width="0.55"/><circle cx="112.3" cy="280.4" r="2.05" fill="url(#gO2)"/>
<line x1="127.2" y1="270.8" x2="129.3" y2="273.6" stroke="#b89696" stroke-width="1.1"/><circle cx="129.3" cy="273.6" r="1.5" fill="#f1e2e2" stroke="#a48a8a" stroke-width="0.55"/><line x1="127.2" y1="270.8" x2="123.9" y2="271.8" stroke="#b89696" stroke-width="1.1"/><circle cx="123.9" cy="271.8" r="1.5" fill="#f1e2e2" stroke="#a48a8a" stroke-width="0.55"/><circle cx="127.2" cy="270.8" r="2.05" fill="url(#gO2)"/>
<line x1="136.9" y1="267.0" x2="140.3" y2="267.6" stroke="#b89696" stroke-width="1.1"/><circle cx="140.3" cy="267.6" r="1.5" fill="#f1e2e2" stroke="#a48a8a" stroke-width="0.55"/><line x1="136.9" y1="267.0" x2="135.2" y2="270.1" stroke="#b89696" stroke-width="1.1"/><circle cx="135.2" cy="270.1" r="1.5" fill="#f1e2e2" stroke="#a48a8a" stroke-width="0.55"/><circle cx="136.9" cy="267.0" r="2.05" fill="url(#gO2)"/>
<line x1="141.2" y1="271.7" x2="144.7" y2="271.2" stroke="#b89696" stroke-width="1.1"/><circle cx="144.7" cy="271.2" r="1.5" fill="#f1e2e2" stroke="#a48a8a" stroke-width="0.55"/><line x1="141.2" y1="271.7" x2="140.0" y2="275.0" stroke="#b89696" stroke-width="1.1"/><circle cx="140.0" cy="275.0" r="1.5" fill="#f1e2e2" stroke="#a48a8a" stroke-width="0.55"/><circle cx="141.2" cy="271.7" r="2.05" fill="url(#gO2)"/>
<line x1="48.4" y1="284.8" x2="47.2" y2="281.5" stroke="#b89696" stroke-width="1.1"/><circle cx="47.2" cy="281.5" r="1.5" fill="#f1e2e2" stroke="#a48a8a" stroke-width="0.55"/><line x1="48.4" y1="284.8" x2="51.9" y2="284.4" stroke="#b89696" stroke-width="1.1"/><circle cx="51.9" cy="284.4" r="1.5" fill="#f1e2e2" stroke="#a48a8a" stroke-width="0.55"/><circle cx="48.4" cy="284.8" r="2.05" fill="url(#gO2)"/>
<line x1="71.2" y1="287.1" x2="68.9" y2="289.7" stroke="#b89696" stroke-width="1.1"/><circle cx="68.9" cy="289.7" r="1.5" fill="#f1e2e2" stroke="#a48a8a" stroke-width="0.55"/><line x1="71.2" y1="287.1" x2="69.1" y2="284.3" stroke="#b89696" stroke-width="1.1"/><circle cx="69.1" cy="284.3" r="1.5" fill="#f1e2e2" stroke="#a48a8a" stroke-width="0.55"/><circle cx="71.2" cy="287.1" r="2.05" fill="url(#gO2)"/>
<line x1="131.6" y1="283.1" x2="132.1" y2="279.6" stroke="#b89696" stroke-width="1.1"/><circle cx="132.1" cy="279.6" r="1.5" fill="#f1e2e2" stroke="#a48a8a" stroke-width="0.55"/><line x1="131.6" y1="283.1" x2="134.7" y2="284.7" stroke="#b89696" stroke-width="1.1"/><circle cx="134.7" cy="284.7" r="1.5" fill="#f1e2e2" stroke="#a48a8a" stroke-width="0.55"/><circle cx="131.6" cy="283.1" r="2.05" fill="url(#gO2)"/>
<line x1="61.9" y1="291.8" x2="62.5" y2="288.4" stroke="#b89696" stroke-width="1.1"/><circle cx="62.5" cy="288.4" r="1.5" fill="#f1e2e2" stroke="#a48a8a" stroke-width="0.55"/><line x1="61.9" y1="291.8" x2="65.1" y2="293.3" stroke="#b89696" stroke-width="1.1"/><circle cx="65.1" cy="293.3" r="1.5" fill="#f1e2e2" stroke="#a48a8a" stroke-width="0.55"/><circle cx="61.9" cy="291.8" r="2.05" fill="url(#gO2)"/>
<line x1="88.7" y1="293.6" x2="89.3" y2="297.0" stroke="#b89696" stroke-width="1.1"/><circle cx="89.3" cy="297.0" r="1.5" fill="#f1e2e2" stroke="#a48a8a" stroke-width="0.55"/><line x1="88.7" y1="293.6" x2="85.3" y2="292.6" stroke="#b89696" stroke-width="1.1"/><circle cx="85.3" cy="292.6" r="1.5" fill="#f1e2e2" stroke="#a48a8a" stroke-width="0.55"/><circle cx="88.7" cy="293.6" r="2.05" fill="url(#gO2)"/>
<line x1="106.2" y1="292.7" x2="109.7" y2="292.4" stroke="#b89696" stroke-width="1.1"/><circle cx="109.7" cy="292.4" r="1.5" fill="#f1e2e2" stroke="#a48a8a" stroke-width="0.55"/><line x1="106.2" y1="292.7" x2="104.9" y2="296.0" stroke="#b89696" stroke-width="1.1"/><circle cx="104.9" cy="296.0" r="1.5" fill="#f1e2e2" stroke="#a48a8a" stroke-width="0.55"/><circle cx="106.2" cy="292.7" r="2.05" fill="url(#gO2)"/>
<line x1="36.1" y1="296.6" x2="37.3" y2="293.3" stroke="#b89696" stroke-width="1.1"/><circle cx="37.3" cy="293.3" r="1.5" fill="#f1e2e2" stroke="#a48a8a" stroke-width="0.55"/><line x1="36.1" y1="296.6" x2="38.5" y2="299.1" stroke="#b89696" stroke-width="1.1"/><circle cx="38.5" cy="299.1" r="1.5" fill="#f1e2e2" stroke="#a48a8a" stroke-width="0.55"/><circle cx="36.1" cy="296.6" r="2.05" fill="url(#gO2)"/>
<line x1="150.6" y1="262.7" x2="150.4" y2="259.2" stroke="#b89696" stroke-width="1.1"/><circle cx="150.4" cy="259.2" r="1.5" fill="#f1e2e2" stroke="#a48a8a" stroke-width="0.55"/><line x1="150.6" y1="262.7" x2="154.1" y2="263.2" stroke="#b89696" stroke-width="1.1"/><circle cx="154.1" cy="263.2" r="1.5" fill="#f1e2e2" stroke="#a48a8a" stroke-width="0.55"/><circle cx="150.6" cy="262.7" r="2.05" fill="url(#gO2)"/>
<line x1="162.8" y1="266.7" x2="159.3" y2="266.3" stroke="#b89696" stroke-width="1.1"/><circle cx="159.3" cy="266.3" r="1.5" fill="#f1e2e2" stroke="#a48a8a" stroke-width="0.55"/><line x1="162.8" y1="266.7" x2="164.1" y2="263.5" stroke="#b89696" stroke-width="1.1"/><circle cx="164.1" cy="263.5" r="1.5" fill="#f1e2e2" stroke="#a48a8a" stroke-width="0.55"/><circle cx="162.8" cy="266.7" r="2.05" fill="url(#gO2)"/>
<line x1="169.0" y1="257.0" x2="172.4" y2="257.6" stroke="#b89696" stroke-width="1.1"/><circle cx="172.4" cy="257.6" r="1.5" fill="#f1e2e2" stroke="#a48a8a" stroke-width="0.55"/><line x1="169.0" y1="257.0" x2="167.9" y2="260.3" stroke="#b89696" stroke-width="1.1"/><circle cx="167.9" cy="260.3" r="1.5" fill="#f1e2e2" stroke="#a48a8a" stroke-width="0.55"/><circle cx="169.0" cy="257.0" r="2.05" fill="url(#gO2)"/>
<line x1="197.9" y1="222.0" x2="197.3" y2="225.4" stroke="#b89696" stroke-width="1.1"/><circle cx="197.3" cy="225.4" r="1.5" fill="#f1e2e2" stroke="#a48a8a" stroke-width="0.55"/><line x1="197.9" y1="222.0" x2="194.7" y2="220.6" stroke="#b89696" stroke-width="1.1"/><circle cx="194.7" cy="220.6" r="1.5" fill="#f1e2e2" stroke="#a48a8a" stroke-width="0.55"/><circle cx="197.9" cy="222.0" r="2.05" fill="url(#gO2)"/>
<line x1="224.6" y1="223.2" x2="223.4" y2="219.9" stroke="#b89696" stroke-width="1.1"/><circle cx="223.4" cy="219.9" r="1.5" fill="#f1e2e2" stroke="#a48a8a" stroke-width="0.55"/><line x1="224.6" y1="223.2" x2="228.1" y2="223.7" stroke="#b89696" stroke-width="1.1"/><circle cx="228.1" cy="223.7" r="1.5" fill="#f1e2e2" stroke="#a48a8a" stroke-width="0.55"/><circle cx="224.6" cy="223.2" r="2.05" fill="url(#gO2)"/>
<line x1="210.5" y1="240.2" x2="207.2" y2="241.3" stroke="#b89696" stroke-width="1.1"/><circle cx="207.2" cy="241.3" r="1.5" fill="#f1e2e2" stroke="#a48a8a" stroke-width="0.55"/><line x1="210.5" y1="240.2" x2="211.1" y2="236.8" stroke="#b89696" stroke-width="1.1"/><circle cx="211.1" cy="236.8" r="1.5" fill="#f1e2e2" stroke="#a48a8a" stroke-width="0.55"/><circle cx="210.5" cy="240.2" r="2.05" fill="url(#gO2)"/>
<line x1="175.0" y1="248.9" x2="178.5" y2="248.6" stroke="#b89696" stroke-width="1.1"/><circle cx="178.5" cy="248.6" r="1.5" fill="#f1e2e2" stroke="#a48a8a" stroke-width="0.55"/><line x1="175.0" y1="248.9" x2="173.5" y2="252.1" stroke="#b89696" stroke-width="1.1"/><circle cx="173.5" cy="252.1" r="1.5" fill="#f1e2e2" stroke="#a48a8a" stroke-width="0.55"/><circle cx="175.0" cy="248.9" r="2.05" fill="url(#gO2)"/>
<line x1="194.9" y1="250.5" x2="192.6" y2="253.1" stroke="#b89696" stroke-width="1.1"/><circle cx="192.6" cy="253.1" r="1.5" fill="#f1e2e2" stroke="#a48a8a" stroke-width="0.55"/><line x1="194.9" y1="250.5" x2="192.8" y2="247.7" stroke="#b89696" stroke-width="1.1"/><circle cx="192.8" cy="247.7" r="1.5" fill="#f1e2e2" stroke="#a48a8a" stroke-width="0.55"/><circle cx="194.9" cy="250.5" r="2.05" fill="url(#gO2)"/>
<line x1="168.0" y1="268.3" x2="168.5" y2="271.8" stroke="#b89696" stroke-width="1.1"/><circle cx="168.5" cy="271.8" r="1.5" fill="#f1e2e2" stroke="#a48a8a" stroke-width="0.55"/><line x1="168.0" y1="268.3" x2="164.5" y2="268.1" stroke="#b89696" stroke-width="1.1"/><circle cx="164.5" cy="268.1" r="1.5" fill="#f1e2e2" stroke="#a48a8a" stroke-width="0.55"/><circle cx="168.0" cy="268.3" r="2.05" fill="url(#gO2)"/>
<line x1="184.4" y1="265.2" x2="185.4" y2="268.6" stroke="#b89696" stroke-width="1.1"/><circle cx="185.4" cy="268.6" r="1.5" fill="#f1e2e2" stroke="#a48a8a" stroke-width="0.55"/><line x1="184.4" y1="265.2" x2="180.9" y2="264.9" stroke="#b89696" stroke-width="1.1"/><circle cx="180.9" cy="264.9" r="1.5" fill="#f1e2e2" stroke="#a48a8a" stroke-width="0.55"/><circle cx="184.4" cy="265.2" r="2.05" fill="url(#gO2)"/>
<line x1="198.9" y1="261.3" x2="201.7" y2="259.2" stroke="#b89696" stroke-width="1.1"/><circle cx="201.7" cy="259.2" r="1.5" fill="#f1e2e2" stroke="#a48a8a" stroke-width="0.55"/><line x1="198.9" y1="261.3" x2="199.5" y2="264.8" stroke="#b89696" stroke-width="1.1"/><circle cx="199.5" cy="264.8" r="1.5" fill="#f1e2e2" stroke="#a48a8a" stroke-width="0.55"/><circle cx="198.9" cy="261.3" r="2.05" fill="url(#gO2)"/>
<line x1="199.6" y1="265.2" x2="196.1" y2="265.7" stroke="#b89696" stroke-width="1.1"/><circle cx="196.1" cy="265.7" r="1.5" fill="#f1e2e2" stroke="#a48a8a" stroke-width="0.55"/><line x1="199.6" y1="265.2" x2="200.5" y2="261.8" stroke="#b89696" stroke-width="1.1"/><circle cx="200.5" cy="261.8" r="1.5" fill="#f1e2e2" stroke="#a48a8a" stroke-width="0.55"/><circle cx="199.6" cy="265.2" r="2.05" fill="url(#gO2)"/>
<line x1="219.4" y1="268.3" x2="220.5" y2="265.0" stroke="#b89696" stroke-width="1.1"/><circle cx="220.5" cy="265.0" r="1.5" fill="#f1e2e2" stroke="#a48a8a" stroke-width="0.55"/><line x1="219.4" y1="268.3" x2="222.5" y2="269.9" stroke="#b89696" stroke-width="1.1"/><circle cx="222.5" cy="269.9" r="1.5" fill="#f1e2e2" stroke="#a48a8a" stroke-width="0.55"/><circle cx="219.4" cy="268.3" r="2.05" fill="url(#gO2)"/>
<line x1="236.9" y1="268.3" x2="235.0" y2="265.3" stroke="#b89696" stroke-width="1.1"/><circle cx="235.0" cy="265.3" r="1.5" fill="#f1e2e2" stroke="#a48a8a" stroke-width="0.55"/><line x1="236.9" y1="268.3" x2="240.4" y2="268.1" stroke="#b89696" stroke-width="1.1"/><circle cx="240.4" cy="268.1" r="1.5" fill="#f1e2e2" stroke="#a48a8a" stroke-width="0.55"/><circle cx="236.9" cy="268.3" r="2.05" fill="url(#gO2)"/>
<line x1="162.2" y1="276.2" x2="162.9" y2="272.8" stroke="#b89696" stroke-width="1.1"/><circle cx="162.9" cy="272.8" r="1.5" fill="#f1e2e2" stroke="#a48a8a" stroke-width="0.55"/><line x1="162.2" y1="276.2" x2="165.0" y2="278.3" stroke="#b89696" stroke-width="1.1"/><circle cx="165.0" cy="278.3" r="1.5" fill="#f1e2e2" stroke="#a48a8a" stroke-width="0.55"/><circle cx="162.2" cy="276.2" r="2.05" fill="url(#gO2)"/>
<line x1="222.9" y1="276.2" x2="219.4" y2="276.7" stroke="#b89696" stroke-width="1.1"/><circle cx="219.4" cy="276.7" r="1.5" fill="#f1e2e2" stroke="#a48a8a" stroke-width="0.55"/><line x1="222.9" y1="276.2" x2="223.1" y2="272.7" stroke="#b89696" stroke-width="1.1"/><circle cx="223.1" cy="272.7" r="1.5" fill="#f1e2e2" stroke="#a48a8a" stroke-width="0.55"/><circle cx="222.9" cy="276.2" r="2.05" fill="url(#gO2)"/>
<line x1="175.0" y1="279.2" x2="175.9" y2="275.8" stroke="#b89696" stroke-width="1.1"/><circle cx="175.9" cy="275.8" r="1.5" fill="#f1e2e2" stroke="#a48a8a" stroke-width="0.55"/><line x1="175.0" y1="279.2" x2="178.1" y2="280.9" stroke="#b89696" stroke-width="1.1"/><circle cx="178.1" cy="280.9" r="1.5" fill="#f1e2e2" stroke="#a48a8a" stroke-width="0.55"/><circle cx="175.0" cy="279.2" r="2.05" fill="url(#gO2)"/>
<line x1="194.9" y1="278.5" x2="196.0" y2="275.2" stroke="#b89696" stroke-width="1.1"/><circle cx="196.0" cy="275.2" r="1.5" fill="#f1e2e2" stroke="#a48a8a" stroke-width="0.55"/><line x1="194.9" y1="278.5" x2="197.2" y2="281.1" stroke="#b89696" stroke-width="1.1"/><circle cx="197.2" cy="281.1" r="1.5" fill="#f1e2e2" stroke="#a48a8a" stroke-width="0.55"/><circle cx="194.9" cy="278.5" r="2.05" fill="url(#gO2)"/>
<line x1="207.7" y1="278.1" x2="204.9" y2="280.2" stroke="#b89696" stroke-width="1.1"/><circle cx="204.9" cy="280.2" r="1.5" fill="#f1e2e2" stroke="#a48a8a" stroke-width="0.55"/><line x1="207.7" y1="278.1" x2="206.5" y2="274.8" stroke="#b89696" stroke-width="1.1"/><circle cx="206.5" cy="274.8" r="1.5" fill="#f1e2e2" stroke="#a48a8a" stroke-width="0.55"/><circle cx="207.7" cy="278.1" r="2.05" fill="url(#gO2)"/>
<line x1="156.4" y1="280.9" x2="159.7" y2="279.8" stroke="#b89696" stroke-width="1.1"/><circle cx="159.7" cy="279.8" r="1.5" fill="#f1e2e2" stroke="#a48a8a" stroke-width="0.55"/><line x1="156.4" y1="280.9" x2="156.1" y2="284.4" stroke="#b89696" stroke-width="1.1"/><circle cx="156.1" cy="284.4" r="1.5" fill="#f1e2e2" stroke="#a48a8a" stroke-width="0.55"/><circle cx="156.4" cy="280.9" r="2.05" fill="url(#gO2)"/>
<line x1="178.5" y1="289.7" x2="180.2" y2="292.8" stroke="#b89696" stroke-width="1.1"/><circle cx="180.2" cy="292.8" r="1.5" fill="#f1e2e2" stroke="#a48a8a" stroke-width="0.55"/><line x1="178.5" y1="289.7" x2="175.2" y2="290.8" stroke="#b89696" stroke-width="1.1"/><circle cx="175.2" cy="290.8" r="1.5" fill="#f1e2e2" stroke="#a48a8a" stroke-width="0.55"/><circle cx="178.5" cy="289.7" r="2.05" fill="url(#gO2)"/>
<line x1="194.9" y1="291.6" x2="196.9" y2="294.4" stroke="#b89696" stroke-width="1.1"/><circle cx="196.9" cy="294.4" r="1.5" fill="#f1e2e2" stroke="#a48a8a" stroke-width="0.55"/><line x1="194.9" y1="291.6" x2="191.4" y2="292.1" stroke="#b89696" stroke-width="1.1"/><circle cx="191.4" cy="292.1" r="1.5" fill="#f1e2e2" stroke="#a48a8a" stroke-width="0.55"/><circle cx="194.9" cy="291.6" r="2.05" fill="url(#gO2)"/>
<line x1="234.6" y1="289.3" x2="235.8" y2="286.0" stroke="#b89696" stroke-width="1.1"/><circle cx="235.8" cy="286.0" r="1.5" fill="#f1e2e2" stroke="#a48a8a" stroke-width="0.55"/><line x1="234.6" y1="289.3" x2="237.6" y2="291.1" stroke="#b89696" stroke-width="1.1"/><circle cx="237.6" cy="291.1" r="1.5" fill="#f1e2e2" stroke="#a48a8a" stroke-width="0.55"/><circle cx="234.6" cy="289.3" r="2.05" fill="url(#gO2)"/>
<line x1="235.8" y1="293.3" x2="237.4" y2="290.2" stroke="#b89696" stroke-width="1.1"/><circle cx="237.4" cy="290.2" r="1.5" fill="#f1e2e2" stroke="#a48a8a" stroke-width="0.55"/><line x1="235.8" y1="293.3" x2="237.7" y2="296.2" stroke="#b89696" stroke-width="1.1"/><circle cx="237.7" cy="296.2" r="1.5" fill="#f1e2e2" stroke="#a48a8a" stroke-width="0.55"/><circle cx="235.8" cy="293.3" r="2.05" fill="url(#gO2)"/>
<line x1="214.7" y1="294.9" x2="212.8" y2="292.0" stroke="#b89696" stroke-width="1.1"/><circle cx="212.8" cy="292.0" r="1.5" fill="#f1e2e2" stroke="#a48a8a" stroke-width="0.55"/><line x1="214.7" y1="294.9" x2="218.0" y2="293.8" stroke="#b89696" stroke-width="1.1"/><circle cx="218.0" cy="293.8" r="1.5" fill="#f1e2e2" stroke="#a48a8a" stroke-width="0.55"/><circle cx="214.7" cy="294.9" r="2.05" fill="url(#gO2)"/>
<line x1="201.2" y1="297.2" x2="197.9" y2="296.1" stroke="#b89696" stroke-width="1.1"/><circle cx="197.9" cy="296.1" r="1.5" fill="#f1e2e2" stroke="#a48a8a" stroke-width="0.55"/><line x1="201.2" y1="297.2" x2="202.8" y2="294.1" stroke="#b89696" stroke-width="1.1"/><circle cx="202.8" cy="294.1" r="1.5" fill="#f1e2e2" stroke="#a48a8a" stroke-width="0.55"/><circle cx="201.2" cy="297.2" r="2.05" fill="url(#gO2)"/>
<line x1="233.4" y1="301.4" x2="236.9" y2="301.7" stroke="#b89696" stroke-width="1.1"/><circle cx="236.9" cy="301.7" r="1.5" fill="#f1e2e2" stroke="#a48a8a" stroke-width="0.55"/><line x1="233.4" y1="301.4" x2="231.4" y2="304.3" stroke="#b89696" stroke-width="1.1"/><circle cx="231.4" cy="304.3" r="1.5" fill="#f1e2e2" stroke="#a48a8a" stroke-width="0.55"/><circle cx="233.4" cy="301.4" r="2.05" fill="url(#gO2)"/>
<line x1="84.0" y1="298.0" x2="81.9" y2="295.2" stroke="#b89696" stroke-width="1.1"/><circle cx="81.9" cy="295.2" r="1.5" fill="#f1e2e2" stroke="#a48a8a" stroke-width="0.55"/><line x1="84.0" y1="298.0" x2="87.4" y2="297.0" stroke="#b89696" stroke-width="1.1"/><circle cx="87.4" cy="297.0" r="1.5" fill="#f1e2e2" stroke="#a48a8a" stroke-width="0.55"/><circle cx="84.0" cy="298.0" r="2.05" fill="url(#gO2)"/>
<line x1="103.0" y1="296.0" x2="106.2" y2="294.6" stroke="#b89696" stroke-width="1.1"/><circle cx="106.2" cy="294.6" r="1.5" fill="#f1e2e2" stroke="#a48a8a" stroke-width="0.55"/><line x1="103.0" y1="296.0" x2="103.4" y2="299.5" stroke="#b89696" stroke-width="1.1"/><circle cx="103.4" cy="299.5" r="1.5" fill="#f1e2e2" stroke="#a48a8a" stroke-width="0.55"/><circle cx="103.0" cy="296.0" r="2.05" fill="url(#gO2)"/>
<line x1="259.6" y1="285.8" x2="262.0" y2="283.3" stroke="#b89696" stroke-width="1.1"/><circle cx="262.0" cy="283.3" r="1.5" fill="#f1e2e2" stroke="#a48a8a" stroke-width="0.55"/><line x1="259.6" y1="285.8" x2="260.8" y2="289.1" stroke="#b89696" stroke-width="1.1"/><circle cx="260.8" cy="289.1" r="1.5" fill="#f1e2e2" stroke="#a48a8a" stroke-width="0.55"/><circle cx="259.6" cy="285.8" r="2.05" fill="url(#gO2)"/>
<line x1="267.3" y1="299.1" x2="268.1" y2="302.5" stroke="#b89696" stroke-width="1.1"/><circle cx="268.1" cy="302.5" r="1.5" fill="#f1e2e2" stroke="#a48a8a" stroke-width="0.55"/><line x1="267.3" y1="299.1" x2="263.8" y2="299.2" stroke="#b89696" stroke-width="1.1"/><circle cx="263.8" cy="299.2" r="1.5" fill="#f1e2e2" stroke="#a48a8a" stroke-width="0.55"/><circle cx="267.3" cy="299.1" r="2.05" fill="url(#gO2)"/>
<line x1="277.8" y1="293.3" x2="276.9" y2="296.7" stroke="#b89696" stroke-width="1.1"/><circle cx="276.9" cy="296.7" r="1.5" fill="#f1e2e2" stroke="#a48a8a" stroke-width="0.55"/><line x1="277.8" y1="293.3" x2="274.7" y2="291.6" stroke="#b89696" stroke-width="1.1"/><circle cx="274.7" cy="291.6" r="1.5" fill="#f1e2e2" stroke="#a48a8a" stroke-width="0.55"/><circle cx="277.8" cy="293.3" r="2.05" fill="url(#gO2)"/>
<line x1="282.5" y1="283.9" x2="279.5" y2="282.1" stroke="#b89696" stroke-width="1.1"/><circle cx="279.5" cy="282.1" r="1.5" fill="#f1e2e2" stroke="#a48a8a" stroke-width="0.55"/><line x1="282.5" y1="283.9" x2="285.0" y2="281.4" stroke="#b89696" stroke-width="1.1"/><circle cx="285.0" cy="281.4" r="1.5" fill="#f1e2e2" stroke="#a48a8a" stroke-width="0.55"/><circle cx="282.5" cy="283.9" r="2.05" fill="url(#gO2)"/>
<line x1="289.5" y1="289.7" x2="286.4" y2="291.4" stroke="#b89696" stroke-width="1.1"/><circle cx="286.4" cy="291.4" r="1.5" fill="#f1e2e2" stroke="#a48a8a" stroke-width="0.55"/><line x1="289.5" y1="289.7" x2="288.4" y2="286.4" stroke="#b89696" stroke-width="1.1"/><circle cx="288.4" cy="286.4" r="1.5" fill="#f1e2e2" stroke="#a48a8a" stroke-width="0.55"/><circle cx="289.5" cy="289.7" r="2.05" fill="url(#gO2)"/>
<line x1="289.5" y1="227.8" x2="292.5" y2="225.9" stroke="#b89696" stroke-width="1.1"/><circle cx="292.5" cy="225.9" r="1.5" fill="#f1e2e2" stroke="#a48a8a" stroke-width="0.55"/><line x1="289.5" y1="227.8" x2="290.5" y2="231.1" stroke="#b89696" stroke-width="1.1"/><circle cx="290.5" cy="231.1" r="1.5" fill="#f1e2e2" stroke="#a48a8a" stroke-width="0.55"/><circle cx="289.5" cy="227.8" r="2.05" fill="url(#gO2)"/>
<line x1="295.3" y1="262.9" x2="291.9" y2="263.8" stroke="#b89696" stroke-width="1.1"/><circle cx="291.9" cy="263.8" r="1.5" fill="#f1e2e2" stroke="#a48a8a" stroke-width="0.55"/><line x1="295.3" y1="262.9" x2="295.6" y2="259.4" stroke="#b89696" stroke-width="1.1"/><circle cx="295.6" cy="259.4" r="1.5" fill="#f1e2e2" stroke="#a48a8a" stroke-width="0.55"/><circle cx="295.3" cy="262.9" r="2.05" fill="url(#gO2)"/>
<line x1="295.3" y1="278.1" x2="298.2" y2="276.1" stroke="#b89696" stroke-width="1.1"/><circle cx="298.2" cy="276.1" r="1.5" fill="#f1e2e2" stroke="#a48a8a" stroke-width="0.55"/><line x1="295.3" y1="278.1" x2="296.3" y2="281.4" stroke="#b89696" stroke-width="1.1"/><circle cx="296.3" cy="281.4" r="1.5" fill="#f1e2e2" stroke="#a48a8a" stroke-width="0.55"/><circle cx="295.3" cy="278.1" r="2.05" fill="url(#gO2)"/>
<line x1="354.3" y1="209.5" x2="357.3" y2="207.8" stroke="#b89696" stroke-width="1.1"/><circle cx="357.3" cy="207.8" r="1.5" fill="#f1e2e2" stroke="#a48a8a" stroke-width="0.55"/><line x1="354.3" y1="209.5" x2="355.0" y2="212.9" stroke="#b89696" stroke-width="1.1"/><circle cx="355.0" cy="212.9" r="1.5" fill="#f1e2e2" stroke="#a48a8a" stroke-width="0.55"/><circle cx="354.3" cy="209.5" r="2.05" fill="url(#gO2)"/>
<line x1="379.3" y1="212.5" x2="375.9" y2="211.8" stroke="#b89696" stroke-width="1.1"/><circle cx="375.9" cy="211.8" r="1.5" fill="#f1e2e2" stroke="#a48a8a" stroke-width="0.55"/><line x1="379.3" y1="212.5" x2="381.1" y2="209.5" stroke="#b89696" stroke-width="1.1"/><circle cx="381.1" cy="209.5" r="1.5" fill="#f1e2e2" stroke="#a48a8a" stroke-width="0.55"/><circle cx="379.3" cy="212.5" r="2.05" fill="url(#gO2)"/>
<line x1="359.4" y1="216.0" x2="362.9" y2="216.4" stroke="#b89696" stroke-width="1.1"/><circle cx="362.9" cy="216.4" r="1.5" fill="#f1e2e2" stroke="#a48a8a" stroke-width="0.55"/><line x1="359.4" y1="216.0" x2="358.0" y2="219.2" stroke="#b89696" stroke-width="1.1"/><circle cx="358.0" cy="219.2" r="1.5" fill="#f1e2e2" stroke="#a48a8a" stroke-width="0.55"/><circle cx="359.4" cy="216.0" r="2.05" fill="url(#gO2)"/>
<line x1="346.1" y1="217.2" x2="347.5" y2="220.4" stroke="#b89696" stroke-width="1.1"/><circle cx="347.5" cy="220.4" r="1.5" fill="#f1e2e2" stroke="#a48a8a" stroke-width="0.55"/><line x1="346.1" y1="217.2" x2="342.7" y2="218.2" stroke="#b89696" stroke-width="1.1"/><circle cx="342.7" cy="218.2" r="1.5" fill="#f1e2e2" stroke="#a48a8a" stroke-width="0.55"/><circle cx="346.1" cy="217.2" r="2.05" fill="url(#gO2)"/>
<line x1="403.8" y1="225.4" x2="404.9" y2="222.1" stroke="#b89696" stroke-width="1.1"/><circle cx="404.9" cy="222.1" r="1.5" fill="#f1e2e2" stroke="#a48a8a" stroke-width="0.55"/><line x1="403.8" y1="225.4" x2="406.9" y2="227.1" stroke="#b89696" stroke-width="1.1"/><circle cx="406.9" cy="227.1" r="1.5" fill="#f1e2e2" stroke="#a48a8a" stroke-width="0.55"/><circle cx="403.8" cy="225.4" r="2.05" fill="url(#gO2)"/>
<line x1="408.0" y1="221.9" x2="404.5" y2="222.5" stroke="#b89696" stroke-width="1.1"/><circle cx="404.5" cy="222.5" r="1.5" fill="#f1e2e2" stroke="#a48a8a" stroke-width="0.55"/><line x1="408.0" y1="221.9" x2="408.9" y2="218.5" stroke="#b89696" stroke-width="1.1"/><circle cx="408.9" cy="218.5" r="1.5" fill="#f1e2e2" stroke="#a48a8a" stroke-width="0.55"/><circle cx="408.0" cy="221.9" r="2.05" fill="url(#gO2)"/>
<line x1="312.2" y1="233.5" x2="308.9" y2="232.3" stroke="#b89696" stroke-width="1.1"/><circle cx="308.9" cy="232.3" r="1.5" fill="#f1e2e2" stroke="#a48a8a" stroke-width="0.55"/><line x1="312.2" y1="233.5" x2="314.2" y2="230.6" stroke="#b89696" stroke-width="1.1"/><circle cx="314.2" cy="230.6" r="1.5" fill="#f1e2e2" stroke="#a48a8a" stroke-width="0.55"/><circle cx="312.2" cy="233.5" r="2.05" fill="url(#gO2)"/>
<line x1="331.9" y1="231.2" x2="328.4" y2="230.8" stroke="#b89696" stroke-width="1.1"/><circle cx="328.4" cy="230.8" r="1.5" fill="#f1e2e2" stroke="#a48a8a" stroke-width="0.55"/><line x1="331.9" y1="231.2" x2="333.5" y2="228.1" stroke="#b89696" stroke-width="1.1"/><circle cx="333.5" cy="228.1" r="1.5" fill="#f1e2e2" stroke="#a48a8a" stroke-width="0.55"/><circle cx="331.9" cy="231.2" r="2.05" fill="url(#gO2)"/>
<line x1="341.9" y1="241.7" x2="342.6" y2="238.3" stroke="#b89696" stroke-width="1.1"/><circle cx="342.6" cy="238.3" r="1.5" fill="#f1e2e2" stroke="#a48a8a" stroke-width="0.55"/><line x1="341.9" y1="241.7" x2="345.1" y2="243.0" stroke="#b89696" stroke-width="1.1"/><circle cx="345.1" cy="243.0" r="1.5" fill="#f1e2e2" stroke="#a48a8a" stroke-width="0.55"/><circle cx="341.9" cy="241.7" r="2.05" fill="url(#gO2)"/>
<line x1="362.9" y1="237.7" x2="359.6" y2="236.4" stroke="#b89696" stroke-width="1.1"/><circle cx="359.6" cy="236.4" r="1.5" fill="#f1e2e2" stroke="#a48a8a" stroke-width="0.55"/><line x1="362.9" y1="237.7" x2="364.9" y2="234.8" stroke="#b89696" stroke-width="1.1"/><circle cx="364.9" cy="234.8" r="1.5" fill="#f1e2e2" stroke="#a48a8a" stroke-width="0.55"/><circle cx="362.9" cy="237.7" r="2.05" fill="url(#gO2)"/>
<line x1="367.6" y1="239.4" x2="367.0" y2="242.9" stroke="#b89696" stroke-width="1.1"/><circle cx="367.0" cy="242.9" r="1.5" fill="#f1e2e2" stroke="#a48a8a" stroke-width="0.55"/><line x1="367.6" y1="239.4" x2="364.7" y2="237.4" stroke="#b89696" stroke-width="1.1"/><circle cx="364.7" cy="237.4" r="1.5" fill="#f1e2e2" stroke="#a48a8a" stroke-width="0.55"/><circle cx="367.6" cy="239.4" r="2.05" fill="url(#gO2)"/>
<line x1="373.0" y1="238.2" x2="369.5" y2="238.0" stroke="#b89696" stroke-width="1.1"/><circle cx="369.5" cy="238.0" r="1.5" fill="#f1e2e2" stroke="#a48a8a" stroke-width="0.55"/><line x1="373.0" y1="238.2" x2="374.4" y2="235.0" stroke="#b89696" stroke-width="1.1"/><circle cx="374.4" cy="235.0" r="1.5" fill="#f1e2e2" stroke="#a48a8a" stroke-width="0.55"/><circle cx="373.0" cy="238.2" r="2.05" fill="url(#gO2)"/>
<line x1="382.8" y1="232.4" x2="383.0" y2="228.9" stroke="#b89696" stroke-width="1.1"/><circle cx="383.0" cy="228.9" r="1.5" fill="#f1e2e2" stroke="#a48a8a" stroke-width="0.55"/><line x1="382.8" y1="232.4" x2="385.8" y2="234.3" stroke="#b89696" stroke-width="1.1"/><circle cx="385.8" cy="234.3" r="1.5" fill="#f1e2e2" stroke="#a48a8a" stroke-width="0.55"/><circle cx="382.8" cy="232.4" r="2.05" fill="url(#gO2)"/>
<line x1="394.5" y1="227.7" x2="391.2" y2="228.9" stroke="#b89696" stroke-width="1.1"/><circle cx="391.2" cy="228.9" r="1.5" fill="#f1e2e2" stroke="#a48a8a" stroke-width="0.55"/><line x1="394.5" y1="227.7" x2="394.6" y2="224.2" stroke="#b89696" stroke-width="1.1"/><circle cx="394.6" cy="224.2" r="1.5" fill="#f1e2e2" stroke="#a48a8a" stroke-width="0.55"/><circle cx="394.5" cy="227.7" r="2.05" fill="url(#gO2)"/>
<line x1="395.6" y1="238.9" x2="392.1" y2="238.8" stroke="#b89696" stroke-width="1.1"/><circle cx="392.1" cy="238.8" r="1.5" fill="#f1e2e2" stroke="#a48a8a" stroke-width="0.55"/><line x1="395.6" y1="238.9" x2="396.9" y2="235.6" stroke="#b89696" stroke-width="1.1"/><circle cx="396.9" cy="235.6" r="1.5" fill="#f1e2e2" stroke="#a48a8a" stroke-width="0.55"/><circle cx="395.6" cy="238.9" r="2.05" fill="url(#gO2)"/>
<line x1="393.3" y1="244.5" x2="392.1" y2="241.2" stroke="#b89696" stroke-width="1.1"/><circle cx="392.1" cy="241.2" r="1.5" fill="#f1e2e2" stroke="#a48a8a" stroke-width="0.55"/><line x1="393.3" y1="244.5" x2="396.8" y2="244.3" stroke="#b89696" stroke-width="1.1"/><circle cx="396.8" cy="244.3" r="1.5" fill="#f1e2e2" stroke="#a48a8a" stroke-width="0.55"/><circle cx="393.3" cy="244.5" r="2.05" fill="url(#gO2)"/>
<line x1="376.9" y1="244.8" x2="373.5" y2="244.1" stroke="#b89696" stroke-width="1.1"/><circle cx="373.5" cy="244.1" r="1.5" fill="#f1e2e2" stroke="#a48a8a" stroke-width="0.55"/><line x1="376.9" y1="244.8" x2="378.7" y2="241.8" stroke="#b89696" stroke-width="1.1"/><circle cx="378.7" cy="241.8" r="1.5" fill="#f1e2e2" stroke="#a48a8a" stroke-width="0.55"/><circle cx="376.9" cy="244.8" r="2.05" fill="url(#gO2)"/>
<line x1="408.0" y1="234.7" x2="411.3" y2="233.4" stroke="#b89696" stroke-width="1.1"/><circle cx="411.3" cy="233.4" r="1.5" fill="#f1e2e2" stroke="#a48a8a" stroke-width="0.55"/><line x1="408.0" y1="234.7" x2="407.9" y2="238.2" stroke="#b89696" stroke-width="1.1"/><circle cx="407.9" cy="238.2" r="1.5" fill="#f1e2e2" stroke="#a48a8a" stroke-width="0.55"/><circle cx="408.0" cy="234.7" r="2.05" fill="url(#gO2)"/>
<line x1="408.5" y1="238.9" x2="411.0" y2="236.4" stroke="#b89696" stroke-width="1.1"/><circle cx="411.0" cy="236.4" r="1.5" fill="#f1e2e2" stroke="#a48a8a" stroke-width="0.55"/><line x1="408.5" y1="238.9" x2="409.4" y2="242.3" stroke="#b89696" stroke-width="1.1"/><circle cx="409.4" cy="242.3" r="1.5" fill="#f1e2e2" stroke="#a48a8a" stroke-width="0.55"/><circle cx="408.5" cy="238.9" r="2.05" fill="url(#gO2)"/>
<line x1="421.3" y1="235.2" x2="421.1" y2="238.7" stroke="#b89696" stroke-width="1.1"/><circle cx="421.1" cy="238.7" r="1.5" fill="#f1e2e2" stroke="#a48a8a" stroke-width="0.55"/><line x1="421.3" y1="235.2" x2="418.1" y2="233.8" stroke="#b89696" stroke-width="1.1"/><circle cx="418.1" cy="233.8" r="1.5" fill="#f1e2e2" stroke="#a48a8a" stroke-width="0.55"/><circle cx="421.3" cy="235.2" r="2.05" fill="url(#gO2)"/>
<line x1="362.9" y1="255.7" x2="366.2" y2="254.5" stroke="#b89696" stroke-width="1.1"/><circle cx="366.2" cy="254.5" r="1.5" fill="#f1e2e2" stroke="#a48a8a" stroke-width="0.55"/><line x1="362.9" y1="255.7" x2="362.5" y2="259.2" stroke="#b89696" stroke-width="1.1"/><circle cx="362.5" cy="259.2" r="1.5" fill="#f1e2e2" stroke="#a48a8a" stroke-width="0.55"/><circle cx="362.9" cy="255.7" r="2.05" fill="url(#gO2)"/>
<line x1="385.1" y1="256.2" x2="387.4" y2="258.9" stroke="#b89696" stroke-width="1.1"/><circle cx="387.4" cy="258.9" r="1.5" fill="#f1e2e2" stroke="#a48a8a" stroke-width="0.55"/><line x1="385.1" y1="256.2" x2="382.1" y2="258.0" stroke="#b89696" stroke-width="1.1"/><circle cx="382.1" cy="258.0" r="1.5" fill="#f1e2e2" stroke="#a48a8a" stroke-width="0.55"/><circle cx="385.1" cy="256.2" r="2.05" fill="url(#gO2)"/>
<line x1="378.1" y1="259.2" x2="374.8" y2="260.4" stroke="#b89696" stroke-width="1.1"/><circle cx="374.8" cy="260.4" r="1.5" fill="#f1e2e2" stroke="#a48a8a" stroke-width="0.55"/><line x1="378.1" y1="259.2" x2="377.4" y2="255.8" stroke="#b89696" stroke-width="1.1"/><circle cx="377.4" cy="255.8" r="1.5" fill="#f1e2e2" stroke="#a48a8a" stroke-width="0.55"/><circle cx="378.1" cy="259.2" r="2.05" fill="url(#gO2)"/>
<line x1="380.4" y1="265.1" x2="380.6" y2="268.6" stroke="#b89696" stroke-width="1.1"/><circle cx="380.6" cy="268.6" r="1.5" fill="#f1e2e2" stroke="#a48a8a" stroke-width="0.55"/><line x1="380.4" y1="265.1" x2="376.9" y2="264.8" stroke="#b89696" stroke-width="1.1"/><circle cx="376.9" cy="264.8" r="1.5" fill="#f1e2e2" stroke="#a48a8a" stroke-width="0.55"/><circle cx="380.4" cy="265.1" r="2.05" fill="url(#gO2)"/>
<line x1="408.0" y1="256.9" x2="406.3" y2="253.8" stroke="#b89696" stroke-width="1.1"/><circle cx="406.3" cy="253.8" r="1.5" fill="#f1e2e2" stroke="#a48a8a" stroke-width="0.55"/><line x1="408.0" y1="256.9" x2="411.5" y2="256.7" stroke="#b89696" stroke-width="1.1"/><circle cx="411.5" cy="256.7" r="1.5" fill="#f1e2e2" stroke="#a48a8a" stroke-width="0.55"/><circle cx="408.0" cy="256.9" r="2.05" fill="url(#gO2)"/>
<line x1="412.7" y1="256.2" x2="415.5" y2="254.1" stroke="#b89696" stroke-width="1.1"/><circle cx="415.5" cy="254.1" r="1.5" fill="#f1e2e2" stroke="#a48a8a" stroke-width="0.55"/><line x1="412.7" y1="256.2" x2="414.2" y2="259.3" stroke="#b89696" stroke-width="1.1"/><circle cx="414.2" cy="259.3" r="1.5" fill="#f1e2e2" stroke="#a48a8a" stroke-width="0.55"/><circle cx="412.7" cy="256.2" r="2.05" fill="url(#gO2)"/>
<line x1="425.3" y1="253.4" x2="424.6" y2="250.0" stroke="#b89696" stroke-width="1.1"/><circle cx="424.6" cy="250.0" r="1.5" fill="#f1e2e2" stroke="#a48a8a" stroke-width="0.55"/><line x1="425.3" y1="253.4" x2="428.7" y2="254.0" stroke="#b89696" stroke-width="1.1"/><circle cx="428.7" cy="254.0" r="1.5" fill="#f1e2e2" stroke="#a48a8a" stroke-width="0.55"/><circle cx="425.3" cy="253.4" r="2.05" fill="url(#gO2)"/>
<line x1="334.2" y1="256.9" x2="336.4" y2="259.6" stroke="#b89696" stroke-width="1.1"/><circle cx="336.4" cy="259.6" r="1.5" fill="#f1e2e2" stroke="#a48a8a" stroke-width="0.55"/><line x1="334.2" y1="256.9" x2="330.8" y2="257.6" stroke="#b89696" stroke-width="1.1"/><circle cx="330.8" cy="257.6" r="1.5" fill="#f1e2e2" stroke="#a48a8a" stroke-width="0.55"/><circle cx="334.2" cy="256.9" r="2.05" fill="url(#gO2)"/>
<line x1="309.9" y1="258.1" x2="313.3" y2="257.4" stroke="#b89696" stroke-width="1.1"/><circle cx="313.3" cy="257.4" r="1.5" fill="#f1e2e2" stroke="#a48a8a" stroke-width="0.55"/><line x1="309.9" y1="258.1" x2="309.9" y2="261.6" stroke="#b89696" stroke-width="1.1"/><circle cx="309.9" cy="261.6" r="1.5" fill="#f1e2e2" stroke="#a48a8a" stroke-width="0.55"/><circle cx="309.9" cy="258.1" r="2.05" fill="url(#gO2)"/>
<line x1="326.7" y1="263.2" x2="330.0" y2="262.2" stroke="#b89696" stroke-width="1.1"/><circle cx="330.0" cy="262.2" r="1.5" fill="#f1e2e2" stroke="#a48a8a" stroke-width="0.55"/><line x1="326.7" y1="263.2" x2="326.7" y2="266.7" stroke="#b89696" stroke-width="1.1"/><circle cx="326.7" cy="266.7" r="1.5" fill="#f1e2e2" stroke="#a48a8a" stroke-width="0.55"/><circle cx="326.7" cy="263.2" r="2.05" fill="url(#gO2)"/>
<line x1="310.8" y1="267.4" x2="307.3" y2="267.7" stroke="#b89696" stroke-width="1.1"/><circle cx="307.3" cy="267.7" r="1.5" fill="#f1e2e2" stroke="#a48a8a" stroke-width="0.55"/><line x1="310.8" y1="267.4" x2="312.3" y2="264.2" stroke="#b89696" stroke-width="1.1"/><circle cx="312.3" cy="264.2" r="1.5" fill="#f1e2e2" stroke="#a48a8a" stroke-width="0.55"/><circle cx="310.8" cy="267.4" r="2.05" fill="url(#gO2)"/>
<line x1="320.9" y1="270.9" x2="322.6" y2="267.9" stroke="#b89696" stroke-width="1.1"/><circle cx="322.6" cy="267.9" r="1.5" fill="#f1e2e2" stroke="#a48a8a" stroke-width="0.55"/><line x1="320.9" y1="270.9" x2="323.6" y2="273.2" stroke="#b89696" stroke-width="1.1"/><circle cx="323.6" cy="273.2" r="1.5" fill="#f1e2e2" stroke="#a48a8a" stroke-width="0.55"/><circle cx="320.9" cy="270.9" r="2.05" fill="url(#gO2)"/>
<line x1="358.3" y1="266.2" x2="355.1" y2="267.7" stroke="#b89696" stroke-width="1.1"/><circle cx="355.1" cy="267.7" r="1.5" fill="#f1e2e2" stroke="#a48a8a" stroke-width="0.55"/><line x1="358.3" y1="266.2" x2="358.0" y2="262.7" stroke="#b89696" stroke-width="1.1"/><circle cx="358.0" cy="262.7" r="1.5" fill="#f1e2e2" stroke="#a48a8a" stroke-width="0.55"/><circle cx="358.3" cy="266.2" r="2.05" fill="url(#gO2)"/>
<line x1="359.4" y1="270.9" x2="357.5" y2="273.9" stroke="#b89696" stroke-width="1.1"/><circle cx="357.5" cy="273.9" r="1.5" fill="#f1e2e2" stroke="#a48a8a" stroke-width="0.55"/><line x1="359.4" y1="270.9" x2="356.9" y2="268.5" stroke="#b89696" stroke-width="1.1"/><circle cx="356.9" cy="268.5" r="1.5" fill="#f1e2e2" stroke="#a48a8a" stroke-width="0.55"/><circle cx="359.4" cy="270.9" r="2.05" fill="url(#gO2)"/>
<line x1="348.2" y1="272.1" x2="346.7" y2="275.3" stroke="#b89696" stroke-width="1.1"/><circle cx="346.7" cy="275.3" r="1.5" fill="#f1e2e2" stroke="#a48a8a" stroke-width="0.55"/><line x1="348.2" y1="272.1" x2="345.9" y2="269.5" stroke="#b89696" stroke-width="1.1"/><circle cx="345.9" cy="269.5" r="1.5" fill="#f1e2e2" stroke="#a48a8a" stroke-width="0.55"/><circle cx="348.2" cy="272.1" r="2.05" fill="url(#gO2)"/>
<line x1="366.4" y1="275.6" x2="369.9" y2="276.0" stroke="#b89696" stroke-width="1.1"/><circle cx="369.9" cy="276.0" r="1.5" fill="#f1e2e2" stroke="#a48a8a" stroke-width="0.55"/><line x1="366.4" y1="275.6" x2="364.8" y2="278.7" stroke="#b89696" stroke-width="1.1"/><circle cx="364.8" cy="278.7" r="1.5" fill="#f1e2e2" stroke="#a48a8a" stroke-width="0.55"/><circle cx="366.4" cy="275.6" r="2.05" fill="url(#gO2)"/>
<line x1="325.5" y1="276.3" x2="322.2" y2="277.6" stroke="#b89696" stroke-width="1.1"/><circle cx="322.2" cy="277.6" r="1.5" fill="#f1e2e2" stroke="#a48a8a" stroke-width="0.55"/><line x1="325.5" y1="276.3" x2="324.7" y2="272.9" stroke="#b89696" stroke-width="1.1"/><circle cx="324.7" cy="272.9" r="1.5" fill="#f1e2e2" stroke="#a48a8a" stroke-width="0.55"/><circle cx="325.5" cy="276.3" r="2.05" fill="url(#gO2)"/>
<line x1="398.0" y1="273.3" x2="396.3" y2="276.4" stroke="#b89696" stroke-width="1.1"/><circle cx="396.3" cy="276.4" r="1.5" fill="#f1e2e2" stroke="#a48a8a" stroke-width="0.55"/><line x1="398.0" y1="273.3" x2="395.8" y2="270.6" stroke="#b89696" stroke-width="1.1"/><circle cx="395.8" cy="270.6" r="1.5" fill="#f1e2e2" stroke="#a48a8a" stroke-width="0.55"/><circle cx="398.0" cy="273.3" r="2.05" fill="url(#gO2)"/>
<line x1="406.1" y1="277.9" x2="402.6" y2="277.6" stroke="#b89696" stroke-width="1.1"/><circle cx="402.6" cy="277.6" r="1.5" fill="#f1e2e2" stroke="#a48a8a" stroke-width="0.55"/><line x1="406.1" y1="277.9" x2="406.9" y2="274.5" stroke="#b89696" stroke-width="1.1"/><circle cx="406.9" cy="274.5" r="1.5" fill="#f1e2e2" stroke="#a48a8a" stroke-width="0.55"/><circle cx="406.1" cy="277.9" r="2.05" fill="url(#gO2)"/>
<line x1="413.1" y1="276.8" x2="416.6" y2="276.5" stroke="#b89696" stroke-width="1.1"/><circle cx="416.6" cy="276.5" r="1.5" fill="#f1e2e2" stroke="#a48a8a" stroke-width="0.55"/><line x1="413.1" y1="276.8" x2="411.9" y2="280.1" stroke="#b89696" stroke-width="1.1"/><circle cx="411.9" cy="280.1" r="1.5" fill="#f1e2e2" stroke="#a48a8a" stroke-width="0.55"/><circle cx="413.1" cy="276.8" r="2.05" fill="url(#gO2)"/>
<line x1="382.8" y1="283.8" x2="386.2" y2="283.2" stroke="#b89696" stroke-width="1.1"/><circle cx="386.2" cy="283.2" r="1.5" fill="#f1e2e2" stroke="#a48a8a" stroke-width="0.55"/><line x1="382.8" y1="283.8" x2="382.8" y2="287.3" stroke="#b89696" stroke-width="1.1"/><circle cx="382.8" cy="287.3" r="1.5" fill="#f1e2e2" stroke="#a48a8a" stroke-width="0.55"/><circle cx="382.8" cy="283.8" r="2.05" fill="url(#gO2)"/>
<line x1="393.3" y1="281.4" x2="393.0" y2="284.9" stroke="#b89696" stroke-width="1.1"/><circle cx="393.0" cy="284.9" r="1.5" fill="#f1e2e2" stroke="#a48a8a" stroke-width="0.55"/><line x1="393.3" y1="281.4" x2="389.9" y2="280.6" stroke="#b89696" stroke-width="1.1"/><circle cx="389.9" cy="280.6" r="1.5" fill="#f1e2e2" stroke="#a48a8a" stroke-width="0.55"/><circle cx="393.3" cy="281.4" r="2.05" fill="url(#gO2)"/>
<line x1="423.7" y1="282.6" x2="424.3" y2="279.2" stroke="#b89696" stroke-width="1.1"/><circle cx="424.3" cy="279.2" r="1.5" fill="#f1e2e2" stroke="#a48a8a" stroke-width="0.55"/><line x1="423.7" y1="282.6" x2="426.9" y2="284.0" stroke="#b89696" stroke-width="1.1"/><circle cx="426.9" cy="284.0" r="1.5" fill="#f1e2e2" stroke="#a48a8a" stroke-width="0.55"/><circle cx="423.7" cy="282.6" r="2.05" fill="url(#gO2)"/>
<line x1="343.1" y1="283.8" x2="345.5" y2="286.3" stroke="#b89696" stroke-width="1.1"/><circle cx="345.5" cy="286.3" r="1.5" fill="#f1e2e2" stroke="#a48a8a" stroke-width="0.55"/><line x1="343.1" y1="283.8" x2="340.0" y2="285.3" stroke="#b89696" stroke-width="1.1"/><circle cx="340.0" cy="285.3" r="1.5" fill="#f1e2e2" stroke="#a48a8a" stroke-width="0.55"/><circle cx="343.1" cy="283.8" r="2.05" fill="url(#gO2)"/>
<line x1="350.1" y1="284.2" x2="353.1" y2="282.4" stroke="#b89696" stroke-width="1.1"/><circle cx="353.1" cy="282.4" r="1.5" fill="#f1e2e2" stroke="#a48a8a" stroke-width="0.55"/><line x1="350.1" y1="284.2" x2="350.4" y2="287.7" stroke="#b89696" stroke-width="1.1"/><circle cx="350.4" cy="287.7" r="1.5" fill="#f1e2e2" stroke="#a48a8a" stroke-width="0.55"/><circle cx="350.1" cy="284.2" r="2.05" fill="url(#gO2)"/>
<line x1="419.5" y1="286.5" x2="419.3" y2="290.0" stroke="#b89696" stroke-width="1.1"/><circle cx="419.3" cy="290.0" r="1.5" fill="#f1e2e2" stroke="#a48a8a" stroke-width="0.55"/><line x1="419.5" y1="286.5" x2="416.1" y2="285.7" stroke="#b89696" stroke-width="1.1"/><circle cx="416.1" cy="285.7" r="1.5" fill="#f1e2e2" stroke="#a48a8a" stroke-width="0.55"/><circle cx="419.5" cy="286.5" r="2.05" fill="url(#gO2)"/>
<line x1="304.2" y1="281.4" x2="307.3" y2="279.7" stroke="#b89696" stroke-width="1.1"/><circle cx="307.3" cy="279.7" r="1.5" fill="#f1e2e2" stroke="#a48a8a" stroke-width="0.55"/><line x1="304.2" y1="281.4" x2="304.7" y2="284.9" stroke="#b89696" stroke-width="1.1"/><circle cx="304.7" cy="284.9" r="1.5" fill="#f1e2e2" stroke="#a48a8a" stroke-width="0.55"/><circle cx="304.2" cy="281.4" r="2.05" fill="url(#gO2)"/>
<line x1="313.7" y1="287.7" x2="312.6" y2="284.4" stroke="#b89696" stroke-width="1.1"/><circle cx="312.6" cy="284.4" r="1.5" fill="#f1e2e2" stroke="#a48a8a" stroke-width="0.55"/><line x1="313.7" y1="287.7" x2="317.2" y2="287.2" stroke="#b89696" stroke-width="1.1"/><circle cx="317.2" cy="287.2" r="1.5" fill="#f1e2e2" stroke="#a48a8a" stroke-width="0.55"/><circle cx="313.7" cy="287.7" r="2.05" fill="url(#gO2)"/>
<line x1="288.9" y1="295.5" x2="292.2" y2="296.7" stroke="#b89696" stroke-width="1.1"/><circle cx="292.2" cy="296.7" r="1.5" fill="#f1e2e2" stroke="#a48a8a" stroke-width="0.55"/><line x1="288.9" y1="295.5" x2="286.5" y2="298.0" stroke="#b89696" stroke-width="1.1"/><circle cx="286.5" cy="298.0" r="1.5" fill="#f1e2e2" stroke="#a48a8a" stroke-width="0.55"/><circle cx="288.9" cy="295.5" r="2.05" fill="url(#gO2)"/>
<line x1="273.3" y1="301.1" x2="270.2" y2="302.7" stroke="#b89696" stroke-width="1.1"/><circle cx="270.2" cy="302.7" r="1.5" fill="#f1e2e2" stroke="#a48a8a" stroke-width="0.55"/><line x1="273.3" y1="301.1" x2="272.2" y2="297.8" stroke="#b89696" stroke-width="1.1"/><circle cx="272.2" cy="297.8" r="1.5" fill="#f1e2e2" stroke="#a48a8a" stroke-width="0.55"/><circle cx="273.3" cy="301.1" r="2.05" fill="url(#gO2)"/>
<line x1="258.2" y1="309.6" x2="261.4" y2="308.3" stroke="#b89696" stroke-width="1.1"/><circle cx="261.4" cy="308.3" r="1.5" fill="#f1e2e2" stroke="#a48a8a" stroke-width="0.55"/><line x1="258.2" y1="309.6" x2="258.2" y2="313.1" stroke="#b89696" stroke-width="1.1"/><circle cx="258.2" cy="313.1" r="1.5" fill="#f1e2e2" stroke="#a48a8a" stroke-width="0.55"/><circle cx="258.2" cy="309.6" r="2.05" fill="url(#gO2)"/>
<line x1="268.0" y1="309.1" x2="269.1" y2="305.8" stroke="#b89696" stroke-width="1.1"/><circle cx="269.1" cy="305.8" r="1.5" fill="#f1e2e2" stroke="#a48a8a" stroke-width="0.55"/><line x1="268.0" y1="309.1" x2="271.1" y2="310.7" stroke="#b89696" stroke-width="1.1"/><circle cx="271.1" cy="310.7" r="1.5" fill="#f1e2e2" stroke="#a48a8a" stroke-width="0.55"/><circle cx="268.0" cy="309.1" r="2.05" fill="url(#gO2)"/>
<line x1="322.5" y1="290.9" x2="324.7" y2="288.2" stroke="#b89696" stroke-width="1.1"/><circle cx="324.7" cy="288.2" r="1.5" fill="#f1e2e2" stroke="#a48a8a" stroke-width="0.55"/><line x1="322.5" y1="290.9" x2="324.9" y2="293.5" stroke="#b89696" stroke-width="1.1"/><circle cx="324.9" cy="293.5" r="1.5" fill="#f1e2e2" stroke="#a48a8a" stroke-width="0.55"/><circle cx="322.5" cy="290.9" r="2.05" fill="url(#gO2)"/>
<line x1="332.0" y1="289.4" x2="334.3" y2="286.7" stroke="#b89696" stroke-width="1.1"/><circle cx="334.3" cy="286.7" r="1.5" fill="#f1e2e2" stroke="#a48a8a" stroke-width="0.55"/><line x1="332.0" y1="289.4" x2="333.8" y2="292.4" stroke="#b89696" stroke-width="1.1"/><circle cx="333.8" cy="292.4" r="1.5" fill="#f1e2e2" stroke="#a48a8a" stroke-width="0.55"/><circle cx="332.0" cy="289.4" r="2.05" fill="url(#gO2)"/>
<line x1="339.3" y1="289.4" x2="337.4" y2="292.4" stroke="#b89696" stroke-width="1.1"/><circle cx="337.4" cy="292.4" r="1.5" fill="#f1e2e2" stroke="#a48a8a" stroke-width="0.55"/><line x1="339.3" y1="289.4" x2="337.2" y2="286.6" stroke="#b89696" stroke-width="1.1"/><circle cx="337.2" cy="286.6" r="1.5" fill="#f1e2e2" stroke="#a48a8a" stroke-width="0.55"/><circle cx="339.3" cy="289.4" r="2.05" fill="url(#gO2)"/>
<line x1="49.3" y1="276.0" x2="52.4" y2="274.4" stroke="#b89696" stroke-width="1.1"/><circle cx="52.4" cy="274.4" r="1.5" fill="#f1e2e2" stroke="#a48a8a" stroke-width="0.55"/><line x1="49.3" y1="276.0" x2="50.1" y2="279.4" stroke="#b89696" stroke-width="1.1"/><circle cx="50.1" cy="279.4" r="1.5" fill="#f1e2e2" stroke="#a48a8a" stroke-width="0.55"/><circle cx="49.3" cy="276.0" r="2.05" fill="url(#gO2)"/>
<line x1="180.9" y1="263.2" x2="183.3" y2="265.7" stroke="#b89696" stroke-width="1.1"/><circle cx="183.3" cy="265.7" r="1.5" fill="#f1e2e2" stroke="#a48a8a" stroke-width="0.55"/><line x1="180.9" y1="263.2" x2="177.7" y2="264.6" stroke="#b89696" stroke-width="1.1"/><circle cx="177.7" cy="264.6" r="1.5" fill="#f1e2e2" stroke="#a48a8a" stroke-width="0.55"/><circle cx="180.9" cy="263.2" r="2.05" fill="url(#gO2)"/>
<line x1="198.6" y1="279.2" x2="198.9" y2="282.7" stroke="#b89696" stroke-width="1.1"/><circle cx="198.9" cy="282.7" r="1.5" fill="#f1e2e2" stroke="#a48a8a" stroke-width="0.55"/><line x1="198.6" y1="279.2" x2="195.1" y2="278.8" stroke="#b89696" stroke-width="1.1"/><circle cx="195.1" cy="278.8" r="1.5" fill="#f1e2e2" stroke="#a48a8a" stroke-width="0.55"/><circle cx="198.6" cy="279.2" r="2.05" fill="url(#gO2)"/>
<line x1="214.6" y1="266.4" x2="216.4" y2="269.4" stroke="#b89696" stroke-width="1.1"/><circle cx="216.4" cy="269.4" r="1.5" fill="#f1e2e2" stroke="#a48a8a" stroke-width="0.55"/><line x1="214.6" y1="266.4" x2="211.4" y2="267.8" stroke="#b89696" stroke-width="1.1"/><circle cx="211.4" cy="267.8" r="1.5" fill="#f1e2e2" stroke="#a48a8a" stroke-width="0.55"/><circle cx="214.6" cy="266.4" r="2.05" fill="url(#gO2)"/>
<line x1="144.0" y1="282.4" x2="145.0" y2="285.7" stroke="#b89696" stroke-width="1.1"/><circle cx="145.0" cy="285.7" r="1.5" fill="#f1e2e2" stroke="#a48a8a" stroke-width="0.55"/><line x1="144.0" y1="282.4" x2="140.5" y2="282.6" stroke="#b89696" stroke-width="1.1"/><circle cx="140.5" cy="282.6" r="1.5" fill="#f1e2e2" stroke="#a48a8a" stroke-width="0.55"/><circle cx="144.0" cy="282.4" r="2.05" fill="url(#gO2)"/>
<circle cx="96.7" cy="297.3" r="2.8" fill="url(#gS)"/><circle cx="135.3" cy="305.5" r="2.8" fill="url(#gS)"/>
<circle cx="331.2" cy="293.4" r="3.1" fill="url(#gS)"/><circle cx="372" cy="302" r="2.8" fill="url(#gS)"/>
<circle cx="308.6" cy="290.1" r="7.2" fill="url(#gKd)"/>
<line x1="312" y1="287" x2="322" y2="283" stroke="#a050d0" stroke-width="1.4"/>
<ellipse cx="140.2" cy="271.8" rx="12" ry="13.5" fill="none" stroke="#111" stroke-width="1.1" stroke-dasharray="3.5,2.5"/>
<circle cx="341.2" cy="240.5" r="12.1" fill="none" stroke="#111" stroke-width="1.1" stroke-dasharray="3.5,2.5"/>
<circle cx="308.6" cy="288.7" r="12.4" fill="none" stroke="#111" stroke-width="1.1" stroke-dasharray="3.5,2.5"/>
<text x="139" y="298.4" font-size="12.6" text-anchor="start" fill="#111" font-weight="bold"  xml:space="preserve"><tspan>H</tspan><tspan dy="-3.02" font-size="9.07">+</tspan></text>
<text x="339.6" y="256.9" font-size="12.6" text-anchor="start" fill="#111" font-weight="bold"  xml:space="preserve"><tspan>- H</tspan><tspan dy="-3.02" font-size="9.07">+</tspan></text>
<text x="289.6" y="309.9" font-size="12.6" text-anchor="start" fill="#111" font-weight="bold"  xml:space="preserve"><tspan>K</tspan><tspan dy="-3.02" font-size="9.07">+</tspan></text>
<text x="68.2" y="334.1" font-size="12.6" text-anchor="start" fill="#111" font-weight="bold"  xml:space="preserve"><tspan>0.1 M H</tspan><tspan dy="3.40" font-size="8.06">2</tspan><tspan dy="-3.40">SO</tspan><tspan dy="3.40" font-size="8.06">4</tspan></text>
<text x="153.3" y="334.1" font-size="12.8" text-anchor="start" fill="#111" font-weight="bold"  xml:space="preserve"><tspan>5 ps</tspan></text>
<text x="279" y="333.6" font-size="12.6" text-anchor="start" fill="#111" font-weight="bold"  xml:space="preserve"><tspan>0.1 M H</tspan><tspan dy="3.40" font-size="8.06">2</tspan><tspan dy="-3.40">SO</tspan><tspan dy="3.40" font-size="8.06">4</tspan><tspan dy="-3.40">+0.2 M K</tspan><tspan dy="-3.02" font-size="9.07">+</tspan></text>
<text x="413.6" y="333.6" font-size="12.8" text-anchor="start" fill="#111" font-weight="bold"  xml:space="preserve"><tspan>5 ps</tspan></text>
<rect x="487.6" y="187.9" width="195.60000000000002" height="157.1" fill="none" stroke="#1a1a1a" stroke-width="1.7"/>
<line x1="487.6" y1="310.8" x2="490.6" y2="310.8" stroke="#1a1a1a" stroke-width="1.2" />
<text x="486" y="313.1" font-size="12" text-anchor="end" fill="#111" font-weight="bold"  xml:space="preserve"><tspan>5</tspan></text>
<line x1="487.6" y1="276.6" x2="490.6" y2="276.6" stroke="#1a1a1a" stroke-width="1.2" />
<text x="486" y="278.90000000000003" font-size="12" text-anchor="end" fill="#111" font-weight="bold"  xml:space="preserve"><tspan>10</tspan></text>
<line x1="487.6" y1="242.4" x2="490.6" y2="242.4" stroke="#1a1a1a" stroke-width="1.2" />
<text x="486" y="244.70000000000002" font-size="12" text-anchor="end" fill="#111" font-weight="bold"  xml:space="preserve"><tspan>15</tspan></text>
<line x1="487.6" y1="208.2" x2="490.6" y2="208.2" stroke="#1a1a1a" stroke-width="1.2" />
<text x="486" y="210.5" font-size="12" text-anchor="end" fill="#111" font-weight="bold"  xml:space="preserve"><tspan>20</tspan></text>
<text x="486" y="347.3" font-size="12" text-anchor="end" fill="#111" font-weight="bold"  xml:space="preserve"><tspan>0</tspan></text>
<line x1="487.6" y1="327.9" x2="489.6" y2="327.9" stroke="#1a1a1a" stroke-width="1.2" />
<line x1="487.6" y1="293.7" x2="489.6" y2="293.7" stroke="#1a1a1a" stroke-width="1.2" />
<line x1="487.6" y1="259.5" x2="489.6" y2="259.5" stroke="#1a1a1a" stroke-width="1.2" />
<line x1="487.6" y1="225.3" x2="489.6" y2="225.3" stroke="#1a1a1a" stroke-width="1.2" />
<line x1="487.6" y1="191.1" x2="489.6" y2="191.1" stroke="#1a1a1a" stroke-width="1.2" />
<line x1="514.8000000000001" y1="345" x2="514.8000000000001" y2="342" stroke="#1a1a1a" stroke-width="1.2" />
<line x1="542.0" y1="345" x2="542.0" y2="342" stroke="#1a1a1a" stroke-width="1.2" />
<line x1="569.2" y1="345" x2="569.2" y2="342" stroke="#1a1a1a" stroke-width="1.2" />
<line x1="596.4" y1="345" x2="596.4" y2="342" stroke="#1a1a1a" stroke-width="1.2" />
<line x1="623.6" y1="345" x2="623.6" y2="342" stroke="#1a1a1a" stroke-width="1.2" />
<line x1="650.8" y1="345" x2="650.8" y2="342" stroke="#1a1a1a" stroke-width="1.2" />
<line x1="678.0" y1="345" x2="678.0" y2="342" stroke="#1a1a1a" stroke-width="1.2" />
<line x1="501.20000000000005" y1="345" x2="501.20000000000005" y2="343" stroke="#1a1a1a" stroke-width="1.2" />
<line x1="528.4" y1="345" x2="528.4" y2="343" stroke="#1a1a1a" stroke-width="1.2" />
<line x1="555.6" y1="345" x2="555.6" y2="343" stroke="#1a1a1a" stroke-width="1.2" />
<line x1="582.8000000000001" y1="345" x2="582.8000000000001" y2="343" stroke="#1a1a1a" stroke-width="1.2" />
<line x1="610.0" y1="345" x2="610.0" y2="343" stroke="#1a1a1a" stroke-width="1.2" />
<line x1="637.2" y1="345" x2="637.2" y2="343" stroke="#1a1a1a" stroke-width="1.2" />
<line x1="664.4" y1="345" x2="664.4" y2="343" stroke="#1a1a1a" stroke-width="1.2" />
<text x="488.40000000000003" y="355.6" font-size="12" text-anchor="middle" fill="#111" font-weight="bold"  xml:space="preserve"><tspan>0</tspan></text>
<text x="515.6" y="355.6" font-size="12" text-anchor="middle" fill="#111" font-weight="bold"  xml:space="preserve"><tspan>2</tspan></text>
<text x="542.8" y="355.6" font-size="12" text-anchor="middle" fill="#111" font-weight="bold"  xml:space="preserve"><tspan>4</tspan></text>
<text x="570.0" y="355.6" font-size="12" text-anchor="middle" fill="#111" font-weight="bold"  xml:space="preserve"><tspan>6</tspan></text>
<text x="597.1999999999999" y="355.6" font-size="12" text-anchor="middle" fill="#111" font-weight="bold"  xml:space="preserve"><tspan>8</tspan></text>
<text x="624.4" y="355.6" font-size="12" text-anchor="middle" fill="#111" font-weight="bold"  xml:space="preserve"><tspan>10</tspan></text>
<text x="651.5999999999999" y="355.6" font-size="12" text-anchor="middle" fill="#111" font-weight="bold"  xml:space="preserve"><tspan>12</tspan></text>
<text x="678.8" y="355.6" font-size="12" text-anchor="middle" fill="#111" font-weight="bold"  xml:space="preserve"><tspan>14</tspan></text>
<text x="477" y="198" font-size="16.5" text-anchor="start" fill="#111" font-weight="bold"  xml:space="preserve"><tspan>e</tspan></text>
<path d="M521.2,345.2 L526.9,190.0 L531.9,345.2 L534.9,238.8 L537.6,345.2 L539.9,259.4 L543.4,345.2 L548.2,312.5 L551.4,315.4 L554.8,345.2 L558.9,298.3 L561.7,323.0 L566.9,326.2 L569.7,309.7 L573.1,345.2 L575.4,331.5 L578.2,286.9 L580.9,331.0 L583.4,319.0 L586.2,345.2 L588.7,345.2 L591.4,334.2 L594.3,334.2 L597.0,315.3 L599.9,345.2 L602.3,345.2 L605.2,310.1 L607.6,345.2 L610.7,305.7 L613.1,322.2 L616.0,323.0 L618.7,345.2 L621.6,331.3 L624.0,338.7 L632.0,339.4 L635.2,345.2 L640.0,345.2 L643.3,315.3 L645.7,335.5 L648.6,340.3 L653.7,331.8 L656.1,332.3 L661.7,340.7 L665.0,333.4 L667.3,334.2 L670.1,340.7 L673.0,338.3 L675.4,338.3 L677.8,335.0 L680.5,338.3 L682.9,335.8" fill="none" stroke="#2f8ff0" stroke-width="1.3" stroke-linejoin="miter"/>
<text x="551" y="258.6" font-size="12.6" text-anchor="start" fill="#111" font-weight="bold"  xml:space="preserve"><tspan>0.1 M H</tspan><tspan dy="3.40" font-size="8.06">2</tspan><tspan dy="-3.40">SO</tspan><tspan dy="3.40" font-size="8.06">4</tspan><tspan dy="-3.40">+0.2 M K</tspan><tspan dy="-3.02" font-size="9.07">+</tspan></text>
<text x="579.6" y="367.8" font-size="11.5" text-anchor="start" fill="#111" font-weight="bold"  xml:space="preserve"><tspan>r</tspan></text>
<text x="588.2" y="367.8" font-size="11" text-anchor="start" fill="#111" font-weight="normal"  xml:space="preserve"><tspan>(</tspan></text>
<text x="591.2" y="367.8" font-size="11.5" text-anchor="start" fill="#111" font-weight="bold"  xml:space="preserve"><tspan>Å</tspan></text>
<text x="600.6" y="367.8" font-size="11" text-anchor="start" fill="#111" font-weight="normal"  xml:space="preserve"><tspan>)</tspan></text>
<text transform="translate(471,266.3) rotate(-90)" font-size="12.5" text-anchor="middle" fill="#111" font-weight="bold" xml:space="preserve"><tspan>g(r) K</tspan><tspan dy="-3.00" font-size="9.00">+</tspan><tspan dy="3.00">-H</tspan><tspan dy="3.38" font-size="8.00">2</tspan><tspan dy="-3.38">O</tspan></text>
<path d="M29.7,525.8 C30.6,525.9 33.4,526.2 35.0,526.2 C36.6,526.2 38.1,526.3 39.6,525.6 C41.1,524.9 42.8,523.7 44.0,521.9 C45.2,520.1 46.0,517.3 46.9,514.6 C47.8,511.9 48.2,511.6 49.1,505.8 C50.0,500.0 50.8,491.7 52.1,480.0 C53.4,468.3 55.3,445.1 56.8,435.7 C58.2,426.3 59.4,422.6 60.8,423.4 C62.2,424.2 63.8,430.5 65.0,440.4 C66.2,450.3 67.4,471.2 68.3,482.8 C69.2,494.4 69.5,502.8 70.2,510.0 C70.9,517.2 71.5,523.6 72.4,526.3 C73.3,526.4 74.3,526.4 75.4,526.0 C76.5,525.3 77.9,522.9 79.0,522.2 C80.1,521.5 80.9,521.8 81.9,521.9 C82.9,522.0 83.7,523.6 84.9,523.1 C86.1,522.6 87.8,520.9 89.2,519.0 C90.7,517.1 92.1,513.8 93.6,511.7 C95.1,509.6 96.5,507.6 98.0,506.6 C99.5,505.6 100.9,505.0 102.4,505.8 C103.9,506.6 105.3,509.8 106.8,511.7 C108.2,513.6 109.6,517.1 111.1,517.2 C112.5,517.3 114.0,514.8 115.5,512.4 C117.0,510.0 118.5,504.5 119.9,502.9 C121.4,501.3 122.8,504.4 124.2,503.0 C125.6,501.6 127.0,497.0 128.4,494.6 C129.8,492.2 131.2,488.6 132.6,488.7 C134.0,488.8 135.6,493.2 136.8,495.4 C138.1,497.6 138.8,502.7 140.1,502.1 C141.3,501.5 142.8,494.2 144.3,492.0 C145.8,489.8 147.4,488.7 148.9,488.7 C150.4,488.7 152.1,490.1 153.6,492.0 C155.1,493.9 156.6,497.9 157.8,500.4 C159.1,502.9 159.8,505.2 161.1,507.1 C162.3,509.0 163.8,510.7 165.3,511.8 C166.9,512.9 168.4,513.2 170.4,513.5 C172.4,513.8 175.0,513.6 177.1,513.5 C179.2,513.4 181.1,513.8 183.0,513.0 C184.9,512.2 187.1,509.7 188.8,508.8 C190.5,507.9 191.6,507.1 193.0,507.5 C194.4,507.9 195.6,509.7 197.2,511.3 C198.8,512.9 200.6,515.7 202.3,517.2 C204.0,518.8 205.4,519.7 207.3,520.6 C209.2,521.5 211.9,522.4 214.0,522.8 C216.1,523.2 218.2,522.9 219.9,523.1 C221.6,523.4 222.9,523.8 224.1,524.3 C225.3,524.8 226.6,525.7 227.1,526.0" fill="none" stroke="#f4902c" stroke-width="1.4"/>
<path d="M29.7,487.5 C30.2,477.9 31.8,445.8 33.0,430.0 C34.2,414.2 35.7,395.3 36.8,392.8 C37.9,390.3 38.5,403.9 39.5,415.0 C40.5,426.1 41.5,445.0 42.7,459.2 C43.9,473.4 45.7,491.0 46.9,500.0 C48.1,509.0 48.7,509.6 49.8,513.1 C50.9,516.6 52.3,519.2 53.5,521.2 C54.7,523.2 55.9,524.9 57.1,525.1 C58.3,525.3 59.5,524.6 60.8,522.6 C62.1,520.6 63.8,515.9 65.1,513.1 C66.4,510.3 67.6,507.5 68.8,505.8 C70.0,504.1 71.3,503.3 72.4,503.2 C73.5,503.1 74.5,504.9 75.4,505.1 C76.3,505.3 76.9,505.2 77.6,504.4 C78.3,503.5 79.0,502.0 79.7,500.0 C80.4,498.0 81.0,494.8 82.0,492.5 C83.0,490.2 84.5,486.2 85.8,486.3 C87.0,486.4 88.5,491.3 89.5,493.4 C90.5,495.5 91.1,497.5 92.0,499.0 C92.9,500.5 93.4,501.8 95.1,502.6 C96.8,503.4 100.2,502.8 102.4,503.6 C104.6,504.4 106.5,506.1 108.2,507.3 C109.9,508.5 111.1,511.0 112.6,511.0 C114.1,511.0 115.5,509.0 117.0,507.3 C118.5,505.6 120.2,503.4 121.4,500.7 C122.6,498.0 123.0,491.2 124.2,491.2 C125.4,491.1 127.0,497.6 128.4,500.4 C129.8,503.2 131.2,508.4 132.6,508.0 C134.0,507.6 135.6,500.4 136.8,497.9 C138.0,495.4 138.7,492.8 139.8,492.9 C140.9,493.0 142.2,495.6 143.5,498.8 C144.8,502.0 146.4,509.3 147.7,512.2 C149.0,515.1 149.7,516.5 151.1,516.4 C152.5,516.2 154.6,512.8 156.1,511.3 C157.6,509.8 158.8,507.6 160.0,507.5 C161.2,507.4 162.3,509.4 163.6,510.5 C164.9,511.6 166.2,513.5 167.8,513.9 C169.4,514.3 171.4,512.6 172.9,513.0 C174.4,513.4 175.6,514.6 177.1,516.4 C178.6,518.2 180.4,522.4 182.1,523.9 C183.8,525.4 185.1,525.1 187.1,525.3 C189.1,525.4 191.7,524.6 193.9,524.8 C196.2,525.0 198.1,526.4 200.6,526.3 C203.1,526.2 206.5,524.6 209.0,524.4 C211.5,524.2 213.5,525.0 215.7,525.3 C217.9,525.6 220.5,526.1 222.4,526.3 C224.3,526.4 226.3,526.3 227.1,526.3" fill="none" stroke="#3590ec" stroke-width="1.4"/>
<rect x="29.7" y="369.2" width="197.4" height="157.2" fill="none" stroke="#1a1a1a" stroke-width="1.7"/>
<line x1="29.7" y1="484.0" x2="32.7" y2="484.0" stroke="#1a1a1a" stroke-width="1.2" />
<line x1="29.7" y1="441.59999999999997" x2="32.7" y2="441.59999999999997" stroke="#1a1a1a" stroke-width="1.2" />
<line x1="29.7" y1="399.2" x2="32.7" y2="399.2" stroke="#1a1a1a" stroke-width="1.2" />
<line x1="29.7" y1="505.2" x2="31.7" y2="505.2" stroke="#1a1a1a" stroke-width="1.2" />
<line x1="29.7" y1="462.79999999999995" x2="31.7" y2="462.79999999999995" stroke="#1a1a1a" stroke-width="1.2" />
<line x1="29.7" y1="420.4" x2="31.7" y2="420.4" stroke="#1a1a1a" stroke-width="1.2" />
<line x1="29.7" y1="378.0" x2="31.7" y2="378.0" stroke="#1a1a1a" stroke-width="1.2" />
<text x="28" y="530.4" font-size="11.5" text-anchor="end" fill="#111" font-weight="bold"  xml:space="preserve"><tspan>0.0</tspan></text>
<text x="28" y="488.0" font-size="11.5" text-anchor="end" fill="#111" font-weight="bold"  xml:space="preserve"><tspan>0.1</tspan></text>
<text x="28" y="445.59999999999997" font-size="11.5" text-anchor="end" fill="#111" font-weight="bold"  xml:space="preserve"><tspan>0.2</tspan></text>
<text x="28" y="403.2" font-size="11.5" text-anchor="end" fill="#111" font-weight="bold"  xml:space="preserve"><tspan>0.3</tspan></text>
<line x1="67.41" y1="526.4" x2="67.41" y2="523.4" stroke="#1a1a1a" stroke-width="1.2" />
<text x="67.41" y="538" font-size="12.5" text-anchor="middle" fill="#111" font-weight="bold"  xml:space="preserve"><tspan>3</tspan></text>
<line x1="108.72" y1="526.4" x2="108.72" y2="523.4" stroke="#1a1a1a" stroke-width="1.2" />
<text x="108.72" y="538" font-size="12.5" text-anchor="middle" fill="#111" font-weight="bold"  xml:space="preserve"><tspan>6</tspan></text>
<line x1="150.03" y1="526.4" x2="150.03" y2="523.4" stroke="#1a1a1a" stroke-width="1.2" />
<text x="150.03" y="538" font-size="12.5" text-anchor="middle" fill="#111" font-weight="bold"  xml:space="preserve"><tspan>9</tspan></text>
<line x1="191.34" y1="526.4" x2="191.34" y2="523.4" stroke="#1a1a1a" stroke-width="1.2" />
<text x="191.34" y="538" font-size="12.5" text-anchor="middle" fill="#111" font-weight="bold"  xml:space="preserve"><tspan>12</tspan></text>
<line x1="46.755" y1="526.4" x2="46.755" y2="524.4" stroke="#1a1a1a" stroke-width="1.2" />
<line x1="88.065" y1="526.4" x2="88.065" y2="524.4" stroke="#1a1a1a" stroke-width="1.2" />
<line x1="129.375" y1="526.4" x2="129.375" y2="524.4" stroke="#1a1a1a" stroke-width="1.2" />
<line x1="170.685" y1="526.4" x2="170.685" y2="524.4" stroke="#1a1a1a" stroke-width="1.2" />
<line x1="211.99499999999998" y1="526.4" x2="211.99499999999998" y2="524.4" stroke="#1a1a1a" stroke-width="1.2" />
<text x="19.6" y="379.8" font-size="16.5" text-anchor="start" fill="#111" font-weight="bold"  xml:space="preserve"><tspan>f</tspan></text>
<line x1="79.6" y1="390.8" x2="98.5" y2="390.8" stroke="#f4902c" stroke-width="1.4" />
<line x1="79.6" y1="409.7" x2="98.5" y2="409.7" stroke="#3590ec" stroke-width="1.4" />
<text x="103.5" y="394.2" font-size="12.3" text-anchor="start" fill="#111" font-weight="bold"  xml:space="preserve"><tspan>0.1M H</tspan><tspan dy="3.32" font-size="7.87">2</tspan><tspan dy="-3.32">SO</tspan><tspan dy="3.32" font-size="7.87">4</tspan></text>
<text x="103.5" y="412.8" font-size="12.3" text-anchor="start" fill="#111" font-weight="bold"  xml:space="preserve"><tspan>0.1M H</tspan><tspan dy="3.32" font-size="7.87">2</tspan><tspan dy="-3.32">SO</tspan><tspan dy="3.32" font-size="7.87">4</tspan><tspan dy="-3.32">+0.2M K</tspan><tspan dy="-2.95" font-size="8.86">+</tspan></text>
<text transform="translate(11.5,443) rotate(-90)" font-size="12" text-anchor="middle" fill="#111" font-weight="bold" xml:space="preserve"><tspan>H</tspan><tspan dy="3.24" font-size="7.68">2</tspan><tspan dy="-3.24">O Density (Å</tspan><tspan dy="-6.00" font-size="7.44">-3</tspan><tspan dy="6.00">)</tspan></text>
<text x="86.3" y="548.3" font-size="12" text-anchor="start" fill="#111" font-weight="bold"  xml:space="preserve"><tspan>Distance</tspan></text>
<text x="132.8" y="548.3" font-size="12" text-anchor="start" fill="#111" font-weight="normal"  xml:space="preserve"><tspan>(</tspan></text>
<text x="138.5" y="548.3" font-size="12" text-anchor="start" fill="#111" font-weight="bold"  xml:space="preserve"><tspan>Å</tspan></text>
<text x="149" y="548.3" font-size="12" text-anchor="start" fill="#111" font-weight="normal"  xml:space="preserve"><tspan>)</tspan></text>
<text x="242.4" y="379.6" font-size="16.5" text-anchor="start" fill="#111" font-weight="bold"  xml:space="preserve"><tspan>g</tspan></text>
<rect x="254.7" y="372.4" width="426.6" height="152.9" fill="url(#gBG)"/>
<rect x="254.7" y="372.4" width="426.6" height="152.9" fill="none" stroke="#e6e6e6" stroke-width="1" stroke-dasharray="8,5"/>
<line x1="468.8" y1="376.8" x2="468.8" y2="516" stroke="#7c7c7c" stroke-width="1.5" stroke-dasharray="6.5,4.6"/>
<path d="M261.6,516 C270,490 320,483 358.8,483 C400,483 447,490 456,516 Z" fill="url(#gDome)"/>
<path d="M482.6,515 C492,489 540,484 579.9,484 C620,484 668,489 677.2,515 Z" fill="url(#gDome)"/>
<circle cx="293" cy="406.7" r="14.0" fill="url(#gH)" opacity="0.55"/>
<circle cx="293" cy="406.7" r="9" fill="#fffcf2"/>
<text x="293.8" y="410.955" font-size="11.5" text-anchor="middle" fill="#111" font-weight="bold"  xml:space="preserve"><tspan>H</tspan><tspan dy="-2.76" font-size="8.28">+</tspan></text>
<circle cx="280.6" cy="444.8" r="14.0" fill="url(#gH)" opacity="0.55"/>
<circle cx="280.6" cy="444.8" r="9" fill="#fffcf2"/>
<text x="281.40000000000003" y="449.055" font-size="11.5" text-anchor="middle" fill="#111" font-weight="bold"  xml:space="preserve"><tspan>H</tspan><tspan dy="-2.76" font-size="8.28">+</tspan></text>
<circle cx="409.4" cy="455.5" r="14.0" fill="url(#gH)" opacity="0.55"/>
<circle cx="409.4" cy="455.5" r="9" fill="#fffcf2"/>
<text x="410.2" y="459.755" font-size="11.5" text-anchor="middle" fill="#111" font-weight="bold"  xml:space="preserve"><tspan>H</tspan><tspan dy="-2.76" font-size="8.28">+</tspan></text>
<circle cx="324.4" cy="466.5" r="14.0" fill="url(#gH)" opacity="0.55"/>
<circle cx="324.4" cy="466.5" r="9" fill="#fffcf2"/>
<text x="325.2" y="470.755" font-size="11.5" text-anchor="middle" fill="#111" font-weight="bold"  xml:space="preserve"><tspan>*H</tspan></text>
<circle cx="367.8" cy="443.5" r="14.0" fill="url(#gH)" opacity="0.55"/>
<circle cx="367.8" cy="443.5" r="9" fill="#fffcf2"/>
<text x="368.6" y="447.755" font-size="11.5" text-anchor="middle" fill="#111" font-weight="bold"  xml:space="preserve"><tspan>*H</tspan></text>
<circle cx="494.6" cy="439.5" r="14.0" fill="url(#gH)" opacity="0.55"/>
<circle cx="494.6" cy="439.5" r="9" fill="#fffcf2"/>
<text x="495.40000000000003" y="443.755" font-size="11.5" text-anchor="middle" fill="#111" font-weight="bold"  xml:space="preserve"><tspan>H</tspan><tspan dy="-2.76" font-size="8.28">+</tspan></text>
<circle cx="522.2" cy="423" r="14.0" fill="url(#gH)" opacity="0.55"/>
<circle cx="522.2" cy="423" r="9" fill="#fffcf2"/>
<text x="523.0" y="427.255" font-size="11.5" text-anchor="middle" fill="#111" font-weight="bold"  xml:space="preserve"><tspan>H</tspan><tspan dy="-2.76" font-size="8.28">+</tspan></text>
<circle cx="634.6" cy="428" r="14.0" fill="url(#gH)" opacity="0.55"/>
<circle cx="634.6" cy="428" r="9" fill="#fffcf2"/>
<text x="635.4" y="432.255" font-size="11.5" text-anchor="middle" fill="#111" font-weight="bold"  xml:space="preserve"><tspan>H</tspan><tspan dy="-2.76" font-size="8.28">+</tspan></text>
<circle cx="665.9" cy="442.2" r="14.0" fill="url(#gH)" opacity="0.55"/>
<circle cx="665.9" cy="442.2" r="9" fill="#fffcf2"/>
<text x="666.6999999999999" y="446.455" font-size="11.5" text-anchor="middle" fill="#111" font-weight="bold"  xml:space="preserve"><tspan>H</tspan><tspan dy="-2.76" font-size="8.28">+</tspan></text>
<circle cx="592.5" cy="470.4" r="13.6" fill="url(#gH)" opacity="0.55"/>
<circle cx="592.5" cy="470.4" r="8.8" fill="#fffcf2"/>
<text x="593.3" y="474.09999999999997" font-size="10" text-anchor="middle" fill="#111" font-weight="bold"  xml:space="preserve"><tspan>*H</tspan></text>
<circle cx="495.8" cy="475.7" r="18" fill="url(#gK)"/>
<circle cx="495.8" cy="475.7" r="9.4" fill="url(#gKs)"/>
<text x="495.8" y="479.5" font-size="11" text-anchor="middle" fill="#111" font-weight="bold"  xml:space="preserve"><tspan>K</tspan><tspan dy="-2.64" font-size="7.92">+</tspan></text>
<circle cx="506.9" cy="485.8" r="0.9" fill="#fff6f0"/><circle cx="505.8" cy="484.8" r="1.35" fill="#d65a2c"/>
<circle cx="496.0" cy="490.9" r="0.9" fill="#fff6f0"/><circle cx="494.9" cy="489.9" r="1.35" fill="#d65a2c"/>
<circle cx="484.7" cy="485.2" r="0.9" fill="#fff6f0"/><circle cx="483.6" cy="484.2" r="1.35" fill="#d65a2c"/>
<circle cx="484.0" cy="472.8" r="0.9" fill="#fff6f0"/><circle cx="482.9" cy="471.8" r="1.35" fill="#d65a2c"/>
<circle cx="491.6" cy="463.5" r="0.9" fill="#fff6f0"/><circle cx="490.5" cy="462.5" r="1.35" fill="#d65a2c"/>
<circle cx="504.2" cy="463.7" r="0.9" fill="#fff6f0"/><circle cx="503.1" cy="462.7" r="1.35" fill="#d65a2c"/>
<circle cx="510.2" cy="474.6" r="0.9" fill="#fff6f0"/><circle cx="509.1" cy="473.6" r="1.35" fill="#d65a2c"/>
<circle cx="532.1" cy="460.3" r="18" fill="url(#gK)"/>
<circle cx="532.1" cy="460.3" r="9.4" fill="url(#gKs)"/>
<text x="532.1" y="464.1" font-size="11" text-anchor="middle" fill="#111" font-weight="bold"  xml:space="preserve"><tspan>K</tspan><tspan dy="-2.64" font-size="7.92">+</tspan></text>
<circle cx="542.3" cy="471.3" r="0.9" fill="#fff6f0"/><circle cx="541.2" cy="470.3" r="1.35" fill="#d65a2c"/>
<circle cx="531.0" cy="475.3" r="0.9" fill="#fff6f0"/><circle cx="529.9" cy="474.3" r="1.35" fill="#d65a2c"/>
<circle cx="520.2" cy="468.7" r="0.9" fill="#fff6f0"/><circle cx="519.1" cy="467.7" r="1.35" fill="#d65a2c"/>
<circle cx="520.7" cy="456.3" r="0.9" fill="#fff6f0"/><circle cx="519.6" cy="455.3" r="1.35" fill="#d65a2c"/>
<circle cx="529.1" cy="447.7" r="0.9" fill="#fff6f0"/><circle cx="528.0" cy="446.7" r="1.35" fill="#d65a2c"/>
<circle cx="541.7" cy="449.0" r="0.9" fill="#fff6f0"/><circle cx="540.6" cy="448.0" r="1.35" fill="#d65a2c"/>
<circle cx="546.7" cy="460.4" r="0.9" fill="#fff6f0"/><circle cx="545.6" cy="459.4" r="1.35" fill="#d65a2c"/>
<circle cx="618.6" cy="460.8" r="18" fill="url(#gK)"/>
<circle cx="618.6" cy="460.8" r="9.4" fill="url(#gKs)"/>
<text x="618.6" y="464.6" font-size="11" text-anchor="middle" fill="#111" font-weight="bold"  xml:space="preserve"><tspan>K</tspan><tspan dy="-2.64" font-size="7.92">+</tspan></text>
<circle cx="630.2" cy="470.3" r="0.9" fill="#fff6f0"/><circle cx="629.1" cy="469.3" r="1.35" fill="#d65a2c"/>
<circle cx="619.6" cy="476.0" r="0.9" fill="#fff6f0"/><circle cx="618.5" cy="475.0" r="1.35" fill="#d65a2c"/>
<circle cx="608.0" cy="471.0" r="0.9" fill="#fff6f0"/><circle cx="606.9" cy="470.0" r="1.35" fill="#d65a2c"/>
<circle cx="606.6" cy="458.7" r="0.9" fill="#fff6f0"/><circle cx="605.5" cy="457.7" r="1.35" fill="#d65a2c"/>
<circle cx="613.6" cy="449.0" r="0.9" fill="#fff6f0"/><circle cx="612.5" cy="448.0" r="1.35" fill="#d65a2c"/>
<circle cx="626.3" cy="448.4" r="0.9" fill="#fff6f0"/><circle cx="625.2" cy="447.4" r="1.35" fill="#d65a2c"/>
<circle cx="632.9" cy="458.9" r="0.9" fill="#fff6f0"/><circle cx="631.8" cy="457.9" r="1.35" fill="#d65a2c"/>
<circle cx="661.6" cy="471.5" r="18" fill="url(#gK)"/>
<circle cx="661.6" cy="471.5" r="9.4" fill="url(#gKs)"/>
<text x="661.6" y="475.3" font-size="11" text-anchor="middle" fill="#111" font-weight="bold"  xml:space="preserve"><tspan>K</tspan><tspan dy="-2.64" font-size="7.92">+</tspan></text>
<circle cx="670.2" cy="483.7" r="0.9" fill="#fff6f0"/><circle cx="669.1" cy="482.7" r="1.35" fill="#d65a2c"/>
<circle cx="658.4" cy="486.0" r="0.9" fill="#fff6f0"/><circle cx="657.3" cy="485.0" r="1.35" fill="#d65a2c"/>
<circle cx="648.8" cy="477.8" r="0.9" fill="#fff6f0"/><circle cx="647.7" cy="476.8" r="1.35" fill="#d65a2c"/>
<circle cx="651.1" cy="465.7" r="0.9" fill="#fff6f0"/><circle cx="650.0" cy="464.7" r="1.35" fill="#d65a2c"/>
<circle cx="660.7" cy="458.4" r="0.9" fill="#fff6f0"/><circle cx="659.6" cy="457.4" r="1.35" fill="#d65a2c"/>
<circle cx="672.9" cy="461.7" r="0.9" fill="#fff6f0"/><circle cx="671.8" cy="460.7" r="1.35" fill="#d65a2c"/>
<circle cx="676.2" cy="473.6" r="0.9" fill="#fff6f0"/><circle cx="675.1" cy="472.6" r="1.35" fill="#d65a2c"/>
<circle cx="337.6" cy="415.5" r="4" fill="#fff6ee"/>
<circle cx="322.3" cy="430" r="3" fill="#fff6ee"/>
<circle cx="326.6" cy="422.7" r="6" fill="url(#gRed)"/>
<circle cx="335.4" cy="423.4" r="6" fill="url(#gRed)"/>
<circle cx="337.6" cy="415.5" r="4" fill="#fff6ee"/>
<circle cx="374.3" cy="403" r="4.5" fill="#fff6ee"/>
<circle cx="385.3" cy="405.6" r="8.6" fill="url(#gRed)"/>
<circle cx="391.4" cy="398.6" r="5.5" fill="#fff6ee"/>
<circle cx="332.2" cy="481.5" r="5.5" fill="url(#gRed)"/>
<circle cx="331.2" cy="486.5" r="5" fill="url(#gRed)"/>
<circle cx="354.2" cy="482.2" r="5.5" fill="url(#gRed)"/>
<circle cx="359.7" cy="485.3" r="5.5" fill="url(#gRed)"/>
<path d="M347.4,425 Q362,423 369.5,413.5" fill="none" stroke="#c81e28" stroke-width="1.6" stroke-dasharray="3.2,2"/>
<path d="M366,416 L370.5,412 L369.6,418 Z" fill="#c81e28"/>
<path d="M337.6,475.5 Q350,458 344,445" fill="none" stroke="#c81e28" stroke-width="1.6" stroke-dasharray="3.2,2"/>
<path d="M341,446 L344.2,440.5 L347,446 Z" fill="#c81e28"/>
<circle cx="547.6" cy="413.2" r="3" fill="#fff6ee"/>
<circle cx="562.8" cy="399.9" r="4" fill="#fff6ee"/>
<circle cx="551.1" cy="407.4" r="6.5" fill="url(#gRed)"/>
<circle cx="559.3" cy="407.4" r="6.5" fill="url(#gRed)"/>
<circle cx="581.5" cy="403.9" r="6" fill="url(#gRed)"/>
<circle cx="586.1" cy="410.9" r="6" fill="url(#gRed)"/>
<circle cx="593.6" cy="408.5" r="4.5" fill="#fff6ee"/>
<circle cx="565.1" cy="438.9" r="6" fill="url(#gRed)"/>
<circle cx="574.5" cy="439.6" r="6" fill="url(#gRed)"/>
<circle cx="578" cy="433.1" r="5" fill="#fff6ee"/>
<circle cx="558.5" cy="470.8" r="5.5" fill="url(#gRed)"/>
<circle cx="564.2" cy="472.4" r="5.5" fill="url(#gRed)"/>
<circle cx="573.6" cy="467.7" r="5.5" fill="url(#gRed)"/>
<circle cx="577.3" cy="469.2" r="5.5" fill="url(#gRed)"/>
<path d="M569.7,432 C566,429.5 566,426 568.5,423.5 C571,421 574.5,419.5 571.5,416.5" fill="none" stroke="#111" stroke-width="1.2" stroke-dasharray="2.6,1.4"/>
<path d="M566.3,417.5 L568.2,413.2 L571.8,416.2 Z" fill="#111"/>
<path d="M568.8,474 C566,471 563.5,468.5 566.5,465.5 C569.5,462.5 567.5,460.5 564.8,458 C563.5,456.5 565,455 567,454.5" fill="none" stroke="#111" stroke-width="1.2" stroke-dasharray="2.6,1.4"/>
<path d="M565.5,456.2 L568.5,452.6 L570.2,457 Z" fill="#111"/>
<text x="319.2" y="390.9" font-size="12.8" text-anchor="start" fill="#111" font-weight="bold"  xml:space="preserve"><tspan>0.1 M H</tspan><tspan dy="3.46" font-size="8.19">2</tspan><tspan dy="-3.46">SO</tspan><tspan dy="3.46" font-size="8.19">4</tspan></text>
<text x="325.5" y="438.5" font-size="11" text-anchor="start" fill="#111" font-weight="bold"  xml:space="preserve"><tspan>H</tspan><tspan dy="2.97" font-size="7.04">2</tspan><tspan dy="-2.97">O</tspan><tspan dy="2.97" font-size="7.04">2</tspan></text>
<text x="386.2" y="426.9" font-size="11.5" text-anchor="start" fill="#111" font-weight="bold"  xml:space="preserve"><tspan>H</tspan><tspan dy="3.11" font-size="7.36">2</tspan><tspan dy="-3.11">O</tspan></text>
<text x="340" y="495.6" font-size="11.5" text-anchor="start" fill="#c0203a" font-weight="bold"  xml:space="preserve"><tspan>O</tspan><tspan dy="3.11" font-size="7.36">2</tspan></text>
<text x="305.5" y="509.8" font-size="12.85" text-anchor="start" fill="#111" font-weight="bold"  xml:space="preserve"><tspan>Sulfur-doped CNTs</tspan></text>
<text x="517.6" y="389.9" font-size="12.9" text-anchor="start" fill="#111" font-weight="bold"  xml:space="preserve"><tspan>0.1 M H</tspan><tspan dy="3.48" font-size="8.26">2</tspan><tspan dy="-3.48">SO</tspan><tspan dy="3.48" font-size="8.26">4</tspan><tspan dy="-3.48">+0.2 M K</tspan><tspan dy="-3.10" font-size="9.29">+</tspan></text>
<text x="562.3" y="411.6" font-size="10.5" text-anchor="start" fill="#111" font-weight="bold"  xml:space="preserve"><tspan>H</tspan><tspan dy="2.83" font-size="6.72">2</tspan><tspan dy="-2.83">O</tspan><tspan dy="2.83" font-size="6.72">2</tspan></text>
<text x="550.6" y="451.8" font-size="10.5" text-anchor="start" fill="#111" font-weight="bold"  xml:space="preserve"><tspan>*OOH</tspan></text>
<text x="563.8" y="481" font-size="11.5" text-anchor="start" fill="#c0203a" font-weight="bold"  xml:space="preserve"><tspan>O</tspan><tspan dy="3.11" font-size="7.36">2</tspan></text>
<text x="522.5" y="495.9" font-size="9.6" text-anchor="start" fill="#6f69cc" font-weight="bold"  xml:space="preserve"><tspan>Alkaline microenvironment</tspan></text>
<text x="505" y="509.9" font-size="13" text-anchor="start" fill="#111" font-weight="bold"  xml:space="preserve"><tspan>SO</tspan><tspan dy="3.51" font-size="8.32">3</tspan><tspan dy="-3.51">H-functionalized CNTs</tspan></text>
<rect x="29.7" y="550.8" width="283.5" height="149.9000000000001" fill="none" stroke="#1a1a1a" stroke-width="1.7"/>
<line x1="29.7" y1="568.9" x2="32.7" y2="568.9" stroke="#1a1a1a" stroke-width="1.2" />
<text x="27.5" y="573.1" font-size="12.5" text-anchor="end" fill="#111" font-weight="bold"  xml:space="preserve"><tspan>0</tspan></text>
<line x1="29.7" y1="614.4" x2="32.7" y2="614.4" stroke="#1a1a1a" stroke-width="1.2" />
<text x="27.5" y="618.6" font-size="12.5" text-anchor="end" fill="#111" font-weight="bold"  xml:space="preserve"><tspan>-1</tspan></text>
<line x1="29.7" y1="659.9" x2="32.7" y2="659.9" stroke="#1a1a1a" stroke-width="1.2" />
<text x="27.5" y="664.1" font-size="12.5" text-anchor="end" fill="#111" font-weight="bold"  xml:space="preserve"><tspan>-2</tspan></text>
<line x1="29.7" y1="591.65" x2="31.7" y2="591.65" stroke="#1a1a1a" stroke-width="1.2" />
<line x1="29.7" y1="637.15" x2="31.7" y2="637.15" stroke="#1a1a1a" stroke-width="1.2" />
<line x1="29.7" y1="682.65" x2="31.7" y2="682.65" stroke="#1a1a1a" stroke-width="1.2" />
<text x="18.8" y="556.8" font-size="16.5" text-anchor="start" fill="#111" font-weight="bold"  xml:space="preserve"><tspan>h</tspan></text>
<line x1="97.1" y1="580.4114999999999" x2="122.4" y2="580.4114999999999" stroke="#a8cdec" stroke-width="1.5" />
<line x1="155.4" y1="607.9845" x2="185.2" y2="607.9845" stroke="#a8cdec" stroke-width="1.5" />
<line x1="219" y1="689.384" x2="246.7" y2="689.384" stroke="#a8cdec" stroke-width="1.5" />
<line x1="60.6" y1="568.9" x2="97.1" y2="580.4" stroke="#a8cdec" stroke-width="1.5" stroke-dasharray="4,2.5"/>
<line x1="122.4" y1="580.4" x2="155.4" y2="608.0" stroke="#a8cdec" stroke-width="1.5" stroke-dasharray="4,2.5"/>
<line x1="185.2" y1="608.0" x2="219" y2="689.4" stroke="#a8cdec" stroke-width="1.5" stroke-dasharray="4,2.5"/>
<line x1="246.7" y1="689.4" x2="281.8" y2="632.6" stroke="#a8cdec" stroke-width="1.5" stroke-dasharray="4,2.5"/>
<line x1="97.1" y1="586.281" x2="122.4" y2="586.281" stroke="#1a8de0" stroke-width="1.7" />
<line x1="155.4" y1="605.1179999999999" x2="185.2" y2="605.1179999999999" stroke="#1a8de0" stroke-width="1.7" />
<line x1="219" y1="667.999" x2="246.7" y2="667.999" stroke="#1a8de0" stroke-width="1.7" />
<line x1="60.6" y1="568.9" x2="97.1" y2="586.3" stroke="#1a8de0" stroke-width="1.5" stroke-dasharray="4,2.5"/>
<line x1="122.4" y1="586.3" x2="155.4" y2="605.1" stroke="#1a8de0" stroke-width="1.5" stroke-dasharray="4,2.5"/>
<line x1="185.2" y1="605.1" x2="219" y2="668.0" stroke="#1a8de0" stroke-width="1.5" stroke-dasharray="4,2.5"/>
<line x1="246.7" y1="668.0" x2="281.8" y2="632.6" stroke="#1a8de0" stroke-width="1.5" stroke-dasharray="4,2.5"/>
<line x1="97.1" y1="575.5885" x2="122.4" y2="575.5885" stroke="#b0402e" stroke-width="1.8" />
<line x1="155.4" y1="623.318" x2="185.2" y2="623.318" stroke="#b0402e" stroke-width="1.8" />
<line x1="219" y1="636.6949999999999" x2="246.7" y2="636.6949999999999" stroke="#b0402e" stroke-width="1.8" />
<line x1="60.6" y1="568.9" x2="97.1" y2="575.6" stroke="#b0402e" stroke-width="1.5" stroke-dasharray="4,2.5"/>
<line x1="122.4" y1="575.6" x2="155.4" y2="623.3" stroke="#b0402e" stroke-width="1.5" stroke-dasharray="4,2.5"/>
<line x1="185.2" y1="623.3" x2="219" y2="636.7" stroke="#b0402e" stroke-width="1.5" stroke-dasharray="4,2.5"/>
<line x1="246.7" y1="636.7" x2="281.8" y2="632.6" stroke="#b0402e" stroke-width="1.5" stroke-dasharray="4,2.5"/>
<line x1="97.1" y1="573.996" x2="122.4" y2="573.996" stroke="#f6a060" stroke-width="1.7" />
<line x1="155.4" y1="615.7194999999999" x2="185.2" y2="615.7194999999999" stroke="#f6a060" stroke-width="1.7" />
<line x1="219" y1="649.708" x2="246.7" y2="649.708" stroke="#f6a060" stroke-width="1.7" />
<line x1="60.6" y1="568.9" x2="97.1" y2="574.0" stroke="#f6a060" stroke-width="1.5" stroke-dasharray="4,2.5"/>
<line x1="122.4" y1="574.0" x2="155.4" y2="615.7" stroke="#f6a060" stroke-width="1.5" stroke-dasharray="4,2.5"/>
<line x1="185.2" y1="615.7" x2="219" y2="649.7" stroke="#f6a060" stroke-width="1.5" stroke-dasharray="4,2.5"/>
<line x1="246.7" y1="649.7" x2="281.8" y2="632.6" stroke="#f6a060" stroke-width="1.5" stroke-dasharray="4,2.5"/>
<line x1="281.8" y1="632.6" x2="307" y2="632.6" stroke="#707880" stroke-width="1.2" />
<line x1="35.2" y1="568.9" x2="61.5" y2="568.9" stroke="#8899aa" stroke-width="1.4" />
<text x="35" y="562" font-size="10.5" text-anchor="start" fill="#111" font-weight="bold"  xml:space="preserve"><tspan>*+O</tspan><tspan dy="2.83" font-size="6.72">2</tspan></text>
<text x="99.6" y="569.5" font-size="10.5" text-anchor="start" fill="#111" font-weight="bold"  xml:space="preserve"><tspan>*O</tspan><tspan dy="2.83" font-size="6.72">2</tspan></text>
<text x="157.5" y="599.8" font-size="10.5" text-anchor="start" fill="#111" font-weight="bold"  xml:space="preserve"><tspan>*OOH</tspan></text>
<text x="217.3" y="631.7" font-size="10.5" text-anchor="start" fill="#111" font-weight="bold"  xml:space="preserve"><tspan>*HOOH</tspan></text>
<text x="273" y="624" font-size="10.5" text-anchor="start" fill="#111" font-weight="bold"  xml:space="preserve"><tspan>H</tspan><tspan dy="2.83" font-size="6.72">2</tspan><tspan dy="-2.83">O</tspan><tspan dy="2.83" font-size="6.72">2</tspan><tspan dy="-2.83">+*</tspan></text>
<line x1="35.8" y1="651" x2="53.1" y2="651" stroke="#1a8de0" stroke-width="1.6" />
<text x="59" y="654.5" font-size="10.5" text-anchor="start" fill="#111" font-weight="bold"  xml:space="preserve"><tspan>Carbon network</tspan></text>
<line x1="35.8" y1="664.2" x2="53.1" y2="664.2" stroke="#a8cdec" stroke-width="1.6" />
<text x="59" y="667.1" font-size="10.5" text-anchor="start" fill="#111" font-weight="bold"  xml:space="preserve"><tspan>S-doped carbon</tspan></text>
<line x1="35.8" y1="676.3" x2="53.1" y2="676.3" stroke="#f6a060" stroke-width="1.6" />
<text x="59" y="679.4" font-size="10.5" text-anchor="start" fill="#111" font-weight="bold"  xml:space="preserve"><tspan>SO</tspan><tspan dy="2.83" font-size="6.72">3</tspan><tspan dy="-2.83">H-functionalized carbon (1)</tspan></text>
<line x1="35.8" y1="690.7" x2="53.1" y2="690.7" stroke="#b0402e" stroke-width="1.6" />
<text x="59" y="693.9" font-size="10.5" text-anchor="start" fill="#111" font-weight="bold"  xml:space="preserve"><tspan>SO</tspan><tspan dy="2.83" font-size="6.72">3</tspan><tspan dy="-2.83">H-functionalized carbon (2)</tspan></text>
<text transform="translate(12.4,629.1) rotate(-90)" font-size="12.4" text-anchor="middle" fill="#111" font-weight="bold" xml:space="preserve"><tspan>Free Engery (eV)</tspan></text>
<text x="120.6" y="714.5" font-size="11.5" text-anchor="start" fill="#111" font-weight="bold"  xml:space="preserve"><tspan>Reaction Coordinate</tspan></text>
<rect x="391.5" y="626.69" width="24.100000000000023" height="73.80999999999995" fill="url(#gB)" />
<text x="403.55" y="624.19" font-size="11.5" text-anchor="middle" fill="#111" font-weight="bold"  xml:space="preserve"><tspan>1.21</tspan></text>
<rect x="417" y="609.61" width="23.899999999999977" height="90.88999999999999" fill="url(#gO)" />
<text x="428.95" y="607.11" font-size="11.5" text-anchor="middle" fill="#111" font-weight="bold"  xml:space="preserve"><tspan>1.49</tspan></text>
<rect x="468" y="648.65" width="24" height="51.85000000000002" fill="url(#gB)" />
<text x="480.0" y="646.15" font-size="11.5" text-anchor="middle" fill="#111" font-weight="bold"  xml:space="preserve"><tspan>0.85</tspan></text>
<rect x="493.4" y="623.64" width="23.600000000000023" height="76.86000000000001" fill="url(#gO)" />
<text x="505.2" y="621.14" font-size="11.5" text-anchor="middle" fill="#111" font-weight="bold"  xml:space="preserve"><tspan>1.26</tspan></text>
<rect x="556.7" y="658.41" width="24.299999999999955" height="42.09000000000003" fill="url(#gB)" />
<text x="568.85" y="655.91" font-size="11.5" text-anchor="middle" fill="#111" font-weight="bold"  xml:space="preserve"><tspan>0.69</tspan></text>
<rect x="582.4" y="601.07" width="23.700000000000045" height="99.42999999999995" fill="url(#gO)" />
<text x="594.25" y="598.57" font-size="11.5" text-anchor="middle" fill="#111" font-weight="bold"  xml:space="preserve"><tspan>1.63</tspan></text>
<rect x="620.7" y="677.32" width="24.299999999999955" height="23.17999999999995" fill="url(#gB)" />
<text x="632.85" y="674.82" font-size="11.5" text-anchor="middle" fill="#111" font-weight="bold"  xml:space="preserve"><tspan>0.38</tspan></text>
<rect x="646.4" y="583.38" width="23.700000000000045" height="117.12" fill="url(#gO)" />
<text x="658.25" y="580.88" font-size="11.5" text-anchor="middle" fill="#111" font-weight="bold"  xml:space="preserve"><tspan>1.92</tspan></text>
<rect x="378" y="550.5" width="305.1" height="150.0" fill="none" stroke="#1a1a1a" stroke-width="1.7"/>
<line x1="378" y1="670.0" x2="381" y2="670.0" stroke="#1a1a1a" stroke-width="1.2" />
<line x1="378" y1="639.5" x2="381" y2="639.5" stroke="#1a1a1a" stroke-width="1.2" />
<line x1="378" y1="609.0" x2="381" y2="609.0" stroke="#1a1a1a" stroke-width="1.2" />
<line x1="378" y1="578.5" x2="381" y2="578.5" stroke="#1a1a1a" stroke-width="1.2" />
<line x1="378" y1="685.25" x2="380" y2="685.25" stroke="#1a1a1a" stroke-width="1.2" />
<line x1="378" y1="654.75" x2="380" y2="654.75" stroke="#1a1a1a" stroke-width="1.2" />
<line x1="378" y1="624.25" x2="380" y2="624.25" stroke="#1a1a1a" stroke-width="1.2" />
<line x1="378" y1="593.75" x2="380" y2="593.75" stroke="#1a1a1a" stroke-width="1.2" />
<line x1="378" y1="563.25" x2="380" y2="563.25" stroke="#1a1a1a" stroke-width="1.2" />
<text x="373.9" y="704.5" font-size="11.5" text-anchor="end" fill="#111" font-weight="bold"  xml:space="preserve"><tspan>0.0</tspan></text>
<text x="373.9" y="674.0" font-size="11.5" text-anchor="end" fill="#111" font-weight="bold"  xml:space="preserve"><tspan>0.5</tspan></text>
<text x="373.9" y="643.5" font-size="11.5" text-anchor="end" fill="#111" font-weight="bold"  xml:space="preserve"><tspan>1.0</tspan></text>
<text x="373.9" y="613.0" font-size="11.5" text-anchor="end" fill="#111" font-weight="bold"  xml:space="preserve"><tspan>1.5</tspan></text>
<text x="373.9" y="582.5" font-size="11.5" text-anchor="end" fill="#111" font-weight="bold"  xml:space="preserve"><tspan>2.0</tspan></text>
<text x="367.6" y="558" font-size="16.5" text-anchor="start" fill="#111" font-weight="bold"  xml:space="preserve"><tspan>i</tspan></text>
<rect x="556.2" y="556.3" width="24.3" height="11.7" fill="url(#gBs)" />
<rect x="556.2" y="571.2" width="24.3" height="11.6" fill="url(#gOs)" />
<text x="583.7" y="566" font-size="10.5" text-anchor="start" fill="#111" font-weight="bold"  xml:space="preserve"><tspan>2 e</tspan><tspan dy="-5.25" font-size="6.51">-</tspan><tspan dy="5.25">ORR</tspan></text>
<text x="583.7" y="581" font-size="10.5" text-anchor="start" fill="#111" font-weight="bold"  xml:space="preserve"><tspan>4 e</tspan><tspan dy="-5.25" font-size="6.51">-</tspan><tspan dy="5.25">ORR</tspan></text>
<text x="583" y="694.9" font-size="11" text-anchor="middle" fill="#111" font-weight="bold"  xml:space="preserve"><tspan>(1)</tspan></text>
<text x="645.5" y="694.9" font-size="11" text-anchor="middle" fill="#111" font-weight="bold"  xml:space="preserve"><tspan>(2)</tspan></text>
<text x="416" y="709.8" font-size="11" text-anchor="middle" fill="#111" font-weight="bold"  xml:space="preserve"><tspan>Carbon</tspan></text>
<text x="416" y="720.2" font-size="11" text-anchor="middle" fill="#111" font-weight="bold"  xml:space="preserve"><tspan>network</tspan></text>
<text x="490.8" y="709.8" font-size="11" text-anchor="middle" fill="#111" font-weight="bold"  xml:space="preserve"><tspan>S-doped</tspan></text>
<text x="490.8" y="720.2" font-size="11" text-anchor="middle" fill="#111" font-weight="bold"  xml:space="preserve"><tspan>carbon</tspan></text>
<text x="541.9" y="715.7" font-size="11" text-anchor="start" fill="#111" font-weight="bold"  xml:space="preserve"><tspan>SO</tspan><tspan dy="2.97" font-size="7.04">3</tspan><tspan dy="-2.97">H-functionalized carbon</tspan></text>
<text transform="translate(352.8,626) rotate(-90)" font-size="11.5" text-anchor="middle" fill="#111" font-weight="bold" xml:space="preserve"><tspan>Free Engery (eV)</tspan></text>
</svg>
</body></html>
